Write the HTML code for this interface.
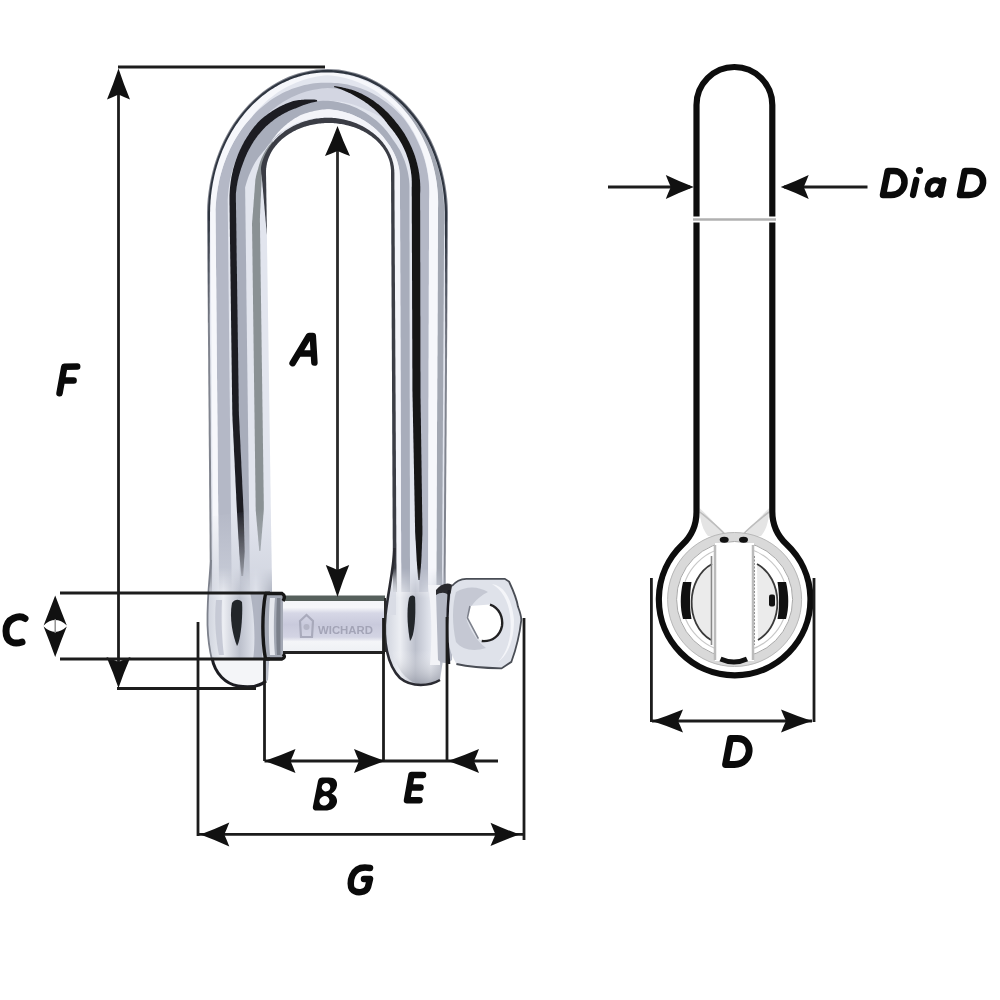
<!DOCTYPE html>
<html><head><meta charset="utf-8"><style>
html,body{margin:0;padding:0;background:#fff;}
svg{display:block;}
</style></head><body>
<svg width="1000" height="1000" viewBox="0 0 1000 1000">
<rect width="1000" height="1000" fill="#fff"/>
<defs><filter id="soft" x="-5%" y="-5%" width="110%" height="110%"><feGaussianBlur stdDeviation="0.7"/></filter></defs><g filter="url(#soft)">
<path d="M211.0,592.0 L211.0,588.2 L210.9,584.5 L210.9,580.7 L210.9,576.9 L210.8,573.1 L210.8,569.4 L210.8,565.6 L210.8,561.8 L210.7,558.1 L210.7,554.3 L210.7,550.5 L210.6,546.8 L210.6,543.0 L210.6,539.2 L210.6,535.5 L210.5,531.7 L210.5,527.9 L210.5,524.1 L210.4,520.4 L210.4,516.6 L210.4,512.8 L210.3,509.1 L210.3,505.3 L210.3,501.5 L210.2,497.8 L210.2,494.0 L210.2,490.2 L210.2,486.4 L210.1,482.7 L210.1,478.9 L210.1,475.1 L210.0,471.4 L210.0,467.6 L210.0,463.8 L209.9,460.1 L209.9,456.3 L209.9,452.5 L209.9,448.7 L209.8,445.0 L209.8,441.2 L209.8,437.4 L209.7,433.7 L209.7,429.9 L209.7,426.1 L209.7,422.4 L209.6,418.6 L209.6,414.8 L209.6,411.0 L209.5,407.3 L209.5,403.5 L209.5,399.7 L209.4,396.0 L209.4,392.2 L209.4,388.4 L209.3,384.6 L209.3,380.9 L209.3,377.1 L209.3,373.3 L209.2,369.6 L209.2,365.8 L209.2,362.0 L209.1,358.3 L209.1,354.5 L209.1,350.7 L209.1,346.9 L209.0,343.2 L209.0,339.4 L209.0,335.6 L208.9,331.9 L208.9,328.1 L208.9,324.3 L208.8,320.6 L208.8,316.8 L208.8,313.0 L208.8,309.2 L208.7,305.5 L208.7,301.7 L208.7,297.9 L208.6,294.2 L208.6,290.4 L208.6,286.6 L208.5,282.9 L208.5,279.1 L208.5,275.3 L208.4,271.6 L208.4,267.8 L208.4,264.0 L208.4,260.2 L208.3,256.5 L208.3,252.7 L208.3,248.9 L208.2,245.2 L208.2,241.4 L208.2,237.6 L208.2,233.9 L208.1,230.1 L208.1,226.3 L208.1,222.5 L208.0,218.8 L208.0,215.0 L208.1,210.4 L208.2,205.9 L208.5,201.4 L208.9,196.8 L209.5,192.3 L210.1,187.8 L210.9,183.4 L211.8,178.9 L212.7,174.5 L213.8,170.2 L215.1,165.9 L216.4,161.6 L217.8,157.4 L219.4,153.3 L221.0,149.2 L222.8,145.1 L224.6,141.2 L226.6,137.3 L228.7,133.5 L230.8,129.8 L233.1,126.1 L235.4,122.6 L237.9,119.1 L240.4,115.7 L243.0,112.5 L245.7,109.3 L248.5,106.2 L251.3,103.3 L254.3,100.4 L257.3,97.7 L260.3,95.1 L263.5,92.6 L266.7,90.2 L269.9,87.9 L273.2,85.8 L276.6,83.8 L280.0,81.9 L283.5,80.2 L287.0,78.6 L290.6,77.1 L294.2,75.8 L297.8,74.6 L301.4,73.5 L305.1,72.6 L308.8,71.8 L312.5,71.1 L316.3,70.6 L320.0,70.3 L323.7,70.1 L327.5,70.0 L331.3,70.1 L335.0,70.3 L338.7,70.6 L342.5,71.1 L346.2,71.8 L349.9,72.6 L353.6,73.5 L357.2,74.6 L360.8,75.8 L364.4,77.1 L368.0,78.6 L371.5,80.2 L375.0,81.9 L378.4,83.8 L381.8,85.8 L385.1,87.9 L388.3,90.2 L391.5,92.6 L394.7,95.1 L397.7,97.7 L400.7,100.4 L403.7,103.3 L406.5,106.2 L409.3,109.3 L412.0,112.5 L414.6,115.7 L417.1,119.1 L419.6,122.6 L421.9,126.1 L424.2,129.8 L426.3,133.5 L428.4,137.3 L430.4,141.2 L432.2,145.1 L434.0,149.2 L435.6,153.3 L437.2,157.4 L438.6,161.6 L439.9,165.9 L441.2,170.2 L442.3,174.5 L443.2,178.9 L444.1,183.4 L444.9,187.8 L445.5,192.3 L446.1,196.8 L446.5,201.4 L446.8,205.9 L446.9,210.4 L447.0,215.0 L447.0,218.8 L446.9,222.5 L446.9,226.3 L446.9,230.1 L446.9,233.8 L446.9,237.6 L446.8,241.4 L446.8,245.2 L446.8,248.9 L446.8,252.7 L446.7,256.5 L446.7,260.2 L446.7,264.0 L446.6,267.8 L446.6,271.5 L446.6,275.3 L446.6,279.1 L446.6,282.9 L446.5,286.6 L446.5,290.4 L446.5,294.2 L446.4,297.9 L446.4,301.7 L446.4,305.5 L446.4,309.2 L446.4,313.0 L446.3,316.8 L446.3,320.6 L446.3,324.3 L446.2,328.1 L446.2,331.9 L446.2,335.6 L446.2,339.4 L446.1,343.2 L446.1,347.0 L446.1,350.7 L446.1,354.5 L446.1,358.3 L446.0,362.0 L446.0,365.8 L446.0,369.6 L445.9,373.3 L445.9,377.1 L445.9,380.9 L445.9,384.7 L445.9,388.4 L445.8,392.2 L445.8,396.0 L445.8,399.7 L445.8,403.5 L445.7,407.3 L445.7,411.0 L445.7,414.8 L445.6,418.6 L445.6,422.3 L445.6,426.1 L445.6,429.9 L445.6,433.7 L445.5,437.4 L445.5,441.2 L445.5,445.0 L445.4,448.7 L445.4,452.5 L445.4,456.3 L445.4,460.0 L445.4,463.8 L445.3,467.6 L445.3,471.4 L445.3,475.1 L445.2,478.9 L445.2,482.7 L445.2,486.4 L445.2,490.2 L445.1,494.0 L445.1,497.8 L445.1,501.5 L445.1,505.3 L445.1,509.1 L445.0,512.8 L445.0,516.6 L445.0,520.4 L444.9,524.1 L444.9,527.9 L444.9,531.7 L444.9,535.5 L444.9,539.2 L444.8,543.0 L444.8,546.8 L444.8,550.5 L444.8,554.3 L444.7,558.1 L444.7,561.8 L444.7,565.6 L444.6,569.4 L444.6,573.2 L444.6,576.9 L444.6,580.7 L444.6,584.5 L444.5,588.2 L444.5,592.0 L393.0,592.0 L393.0,587.8 L393.0,583.6 L392.9,579.4 L392.9,575.2 L392.9,571.0 L392.9,566.8 L392.9,562.6 L392.8,558.4 L392.8,554.2 L392.8,550.0 L392.8,545.8 L392.8,541.6 L392.7,537.4 L392.7,533.2 L392.7,529.0 L392.7,524.8 L392.7,520.6 L392.6,516.4 L392.6,512.2 L392.6,508.0 L392.6,503.8 L392.6,499.6 L392.5,495.4 L392.5,491.2 L392.5,487.0 L392.5,482.8 L392.5,478.6 L392.4,474.4 L392.4,470.2 L392.4,466.0 L392.4,461.8 L392.4,457.6 L392.3,453.4 L392.3,449.2 L392.3,445.0 L392.3,440.8 L392.3,436.6 L392.2,432.4 L392.2,428.2 L392.2,424.0 L392.2,419.8 L392.2,415.6 L392.1,411.4 L392.1,407.2 L392.1,403.0 L392.1,398.8 L392.1,394.6 L392.0,390.4 L392.0,386.2 L392.0,382.0 L392.0,377.8 L392.0,373.6 L391.9,369.4 L391.9,365.2 L391.9,361.0 L391.9,356.8 L391.9,352.6 L391.8,348.4 L391.8,344.2 L391.8,340.0 L391.8,335.8 L391.8,331.6 L391.7,327.4 L391.7,323.2 L391.7,319.0 L391.7,314.8 L391.7,310.6 L391.6,306.4 L391.6,302.2 L391.6,298.0 L391.6,293.8 L391.6,289.6 L391.5,285.4 L391.5,281.2 L391.5,277.0 L391.5,272.8 L391.5,268.6 L391.4,264.4 L391.4,260.2 L391.4,256.0 L391.4,251.8 L391.4,247.6 L391.3,243.4 L391.3,239.2 L391.3,235.0 L391.3,230.8 L391.3,226.6 L391.2,222.4 L391.2,218.2 L391.2,214.0 L391.2,209.8 L391.2,205.6 L391.1,201.4 L391.1,197.2 L391.1,193.0 L391.1,188.8 L391.1,184.6 L391.0,180.4 L391.0,176.2 L391.0,172.0 L391.0,170.5 L390.9,168.9 L390.7,167.4 L390.5,165.9 L390.2,164.3 L389.9,162.8 L389.5,161.3 L389.0,159.8 L388.5,158.3 L387.9,156.9 L387.3,155.4 L386.6,154.0 L385.9,152.5 L385.1,151.1 L384.2,149.8 L383.3,148.4 L382.3,147.1 L381.3,145.7 L380.2,144.5 L379.1,143.2 L377.9,142.0 L376.7,140.8 L375.4,139.6 L374.1,138.5 L372.7,137.4 L371.3,136.3 L369.8,135.2 L368.3,134.2 L366.8,133.3 L365.2,132.4 L363.6,131.5 L362.0,130.6 L360.3,129.8 L358.6,129.1 L356.9,128.3 L355.1,127.7 L353.3,127.0 L351.5,126.4 L349.7,125.9 L347.8,125.4 L345.9,124.9 L344.0,124.5 L342.1,124.2 L340.2,123.9 L338.3,123.6 L336.3,123.4 L334.4,123.2 L332.4,123.1 L330.5,123.0 L328.5,123.0 L326.5,123.0 L324.6,123.1 L322.6,123.2 L320.7,123.4 L318.7,123.6 L316.8,123.9 L314.9,124.2 L313.0,124.5 L311.1,124.9 L309.2,125.4 L307.3,125.9 L305.5,126.4 L303.7,127.0 L301.9,127.7 L300.1,128.3 L298.4,129.1 L296.7,129.8 L295.0,130.6 L293.4,131.5 L291.8,132.4 L290.2,133.3 L288.7,134.2 L287.2,135.2 L285.7,136.3 L284.3,137.4 L282.9,138.5 L281.6,139.6 L280.3,140.8 L279.1,142.0 L277.9,143.2 L276.8,144.5 L275.7,145.7 L274.7,147.1 L273.7,148.4 L272.8,149.8 L271.9,151.1 L271.1,152.5 L270.4,154.0 L269.7,155.4 L269.1,156.9 L268.5,158.3 L268.0,159.8 L267.5,161.3 L267.1,162.8 L266.8,164.3 L266.5,165.9 L266.3,167.4 L266.1,168.9 L266.0,170.5 L266.0,172.0 L266.1,176.2 L266.1,180.4 L266.2,184.6 L266.2,188.8 L266.3,193.0 L266.4,197.2 L266.4,201.4 L266.5,205.6 L266.5,209.8 L266.6,214.0 L266.7,218.2 L266.7,222.4 L266.8,226.6 L266.8,230.8 L266.9,235.0 L267.0,239.2 L267.0,243.4 L267.1,247.6 L267.1,251.8 L267.2,256.0 L267.3,260.2 L267.3,264.4 L267.4,268.6 L267.4,272.8 L267.5,277.0 L267.6,281.2 L267.6,285.4 L267.7,289.6 L267.7,293.8 L267.8,298.0 L267.9,302.2 L267.9,306.4 L268.0,310.6 L268.0,314.8 L268.1,319.0 L268.2,323.2 L268.2,327.4 L268.3,331.6 L268.3,335.8 L268.4,340.0 L268.5,344.2 L268.5,348.4 L268.6,352.6 L268.6,356.8 L268.7,361.0 L268.8,365.2 L268.8,369.4 L268.9,373.6 L268.9,377.8 L269.0,382.0 L269.1,386.2 L269.1,390.4 L269.2,394.6 L269.2,398.8 L269.3,403.0 L269.4,407.2 L269.4,411.4 L269.5,415.6 L269.5,419.8 L269.6,424.0 L269.7,428.2 L269.7,432.4 L269.8,436.6 L269.8,440.8 L269.9,445.0 L270.0,449.2 L270.0,453.4 L270.1,457.6 L270.1,461.8 L270.2,466.0 L270.3,470.2 L270.3,474.4 L270.4,478.6 L270.4,482.8 L270.5,487.0 L270.6,491.2 L270.6,495.4 L270.7,499.6 L270.7,503.8 L270.8,508.0 L270.9,512.2 L270.9,516.4 L271.0,520.6 L271.0,524.8 L271.1,529.0 L271.2,533.2 L271.2,537.4 L271.3,541.6 L271.3,545.8 L271.4,550.0 L271.5,554.2 L271.5,558.4 L271.6,562.6 L271.6,566.8 L271.7,571.0 L271.8,575.2 L271.8,579.4 L271.9,583.6 L271.9,587.8 L272.0,592.0Z" fill="#e2e5ee" opacity="1" />
<path d="M249.7,135.1 L250.0,134.6 L250.3,134.0 L250.6,133.5 L251.0,132.9 L251.3,132.4 L251.6,131.9 L252.0,131.3 L252.3,130.8 L252.7,130.2 L253.0,129.7 L253.4,129.2 L253.7,128.6 L254.1,128.1 L254.5,127.6 L254.8,127.1 L255.2,126.5 L255.6,126.0 L256.0,125.5 L256.3,125.0 L256.7,124.5 L257.1,124.0 L257.5,123.4 L257.9,122.9 L258.3,122.4 L258.7,121.9 L259.1,121.4 L259.5,120.9 L259.9,120.4 L260.3,119.9 L260.7,119.4 L261.2,119.0 L261.6,118.5 L262.0,118.0 L262.4,117.5 L262.9,117.0 L263.3,116.5 L263.7,116.1 L264.2,115.6 L264.6,115.1 L265.1,114.7 L265.5,114.2 L266.0,113.7 L266.4,113.3 L266.9,112.8 L267.3,112.4 L267.8,111.9 L268.3,111.5 L268.7,111.0 L269.2,110.6 L269.7,110.2 L270.2,109.7 L270.6,109.3 L271.1,108.9 L271.6,108.5 L272.1,108.0 L272.6,107.6 L273.1,107.2 L273.6,106.8 L274.1,106.4 L274.6,106.0 L275.1,105.6 L275.6,105.2 L276.1,104.8 L276.6,104.4 L277.1,104.0 L277.6,103.6 L278.1,103.2 L278.7,102.8 L279.2,102.5 L279.7,102.1 L280.2,101.7 L280.8,101.3 L281.3,101.0 L281.8,100.6 L282.4,100.3 L282.9,99.9 L283.5,99.6 L284.1,99.3 L284.6,99.0 L285.2,98.7 L285.8,98.4 L286.4,98.1 L286.9,97.8 L287.5,97.5 L288.1,97.3 L288.7,97.0 L289.2,96.7 L289.8,96.4 L290.4,96.2 L291.0,95.9 L291.6,95.7 L292.2,95.4 L292.7,95.1 L293.3,94.9 L293.9,94.7 L294.5,94.4 L295.1,94.2 L295.7,94.0 L296.3,93.7 L296.9,93.5 L297.5,93.3 L298.1,93.1 L298.7,92.9 L299.3,92.7 L299.9,92.5 L300.5,92.3 L301.1,92.1 L301.7,91.9 L302.3,91.7 L302.9,91.5 L303.6,91.4 L304.2,91.2 L304.8,91.0 L305.4,90.9 L306.0,90.7 L306.6,90.6 L307.2,90.4 L307.8,90.3 L308.5,90.1 L309.1,90.0 L309.7,89.9 L310.3,89.8 L310.9,89.6 L311.6,89.5 L312.2,89.4 L312.8,89.3 L313.4,89.2 L314.0,89.1 L314.7,89.0 L315.3,88.9 L315.9,88.8 L316.5,88.7 L317.2,88.7 L317.8,88.6 L318.4,88.5 L319.0,88.5 L319.7,88.4 L320.3,88.3 L320.9,88.3 L321.6,88.2 L322.2,88.2 L322.8,88.2 L323.4,88.1 L324.1,88.1 L324.7,88.1 L325.3,88.1 L326.0,88.0 L326.6,88.0 L327.2,88.0 L327.8,88.0 L328.5,88.0 L329.1,88.0 L329.7,88.0 L330.4,88.1 L331.0,88.1 L331.6,88.1 L332.2,88.1 L332.9,88.2 L333.5,88.2 L334.1,88.2 L334.8,88.3 L335.4,88.3 L336.0,88.4 L336.6,88.5 L337.3,88.5 L337.9,88.6 L338.5,88.7 L339.1,88.7 L339.8,88.8 L340.4,88.9 L341.0,89.0 L341.6,89.1 L342.3,89.2 L342.9,89.3 L343.5,89.4 L344.1,89.5 L344.7,89.6 L345.4,89.8 L346.0,89.9 L346.6,90.0 L347.2,90.1 L347.8,90.3 L348.5,90.4 L349.1,90.6 L349.7,90.7 L350.3,90.9 L350.9,91.0 L351.5,91.2 L352.1,91.4 L352.7,91.5 L353.3,91.7 L354.0,91.9 L354.6,92.1 L355.2,92.3 L355.8,92.5 L356.4,92.7 L357.0,92.9 L357.6,93.1 L358.2,93.3 L358.8,93.5 L359.4,93.7 L360.0,94.0 L360.6,94.2 L361.2,94.4 L361.8,94.7 L362.3,94.9 L362.9,95.1 L363.5,95.4 L364.1,95.7 L364.7,95.9 L365.3,96.2 L365.9,96.4 L366.4,96.7 L367.0,97.0 L367.6,97.3 L368.2,97.5 L368.8,97.8 L369.3,98.1 L369.9,98.4 L370.5,98.7 L371.0,99.0 L371.6,99.3 L372.2,99.6 L372.7,99.9 L373.3,100.3 L373.8,100.6 L374.4,101.0 L374.9,101.3 L375.4,101.7 L376.0,102.1 L376.5,102.5 L377.0,102.8 L377.5,103.2 L378.1,103.6 L378.6,104.0 L379.1,104.4 L379.6,104.8 L380.1,105.2 L380.6,105.6 L381.1,106.0 L381.6,106.4 L382.1,106.8 L382.6,107.2 L383.1,107.6 L383.6,108.0 L384.1,108.5 L384.6,108.9 L385.1,109.3 L385.6,109.7 L386.0,110.2 L386.5,110.6 L387.0,111.0 L387.5,111.5 L387.9,111.9 L388.4,112.4 L388.9,112.8 L389.3,113.3 L389.8,113.7 L390.2,114.2 L390.7,114.7 L391.1,115.1 L391.6,115.6 L392.0,116.1 L392.4,116.5 L392.9,117.0 L393.3,117.5 L393.7,118.0 L394.2,118.5 L394.6,119.0 L395.0,119.4 L395.4,119.9 L395.8,120.4 L396.3,120.9 L396.7,121.4 L397.1,121.9 L397.5,122.4 L397.9,122.9 L398.3,123.4 L398.7,124.0 L399.0,124.5 L399.4,125.0 L399.8,125.5 L400.2,126.0 L400.6,126.5 L400.9,127.1 L401.3,127.6 L401.7,128.1 L402.0,128.6 L402.4,129.2 L402.8,129.7 L403.1,130.2 L403.5,130.8 L403.8,131.3 L404.1,131.9 L404.5,132.4 L404.8,132.9 L405.2,133.5 L405.5,134.0 L405.8,134.6 L406.1,135.1 L402.5,136.2 L402.1,135.7 L401.7,135.3 L401.3,134.8 L400.9,134.3 L400.5,133.8 L400.1,133.4 L399.7,132.9 L399.2,132.5 L398.8,132.0 L398.4,131.5 L398.0,131.1 L397.6,130.7 L397.1,130.2 L396.7,129.8 L396.3,129.4 L395.8,128.9 L395.4,128.5 L394.9,128.1 L394.5,127.7 L394.1,127.3 L393.6,126.8 L393.2,126.4 L392.7,126.0 L392.3,125.6 L391.8,125.2 L391.4,124.9 L390.9,124.5 L390.5,124.1 L390.0,123.7 L389.5,123.3 L389.1,123.0 L388.6,122.6 L388.1,122.2 L387.7,121.9 L387.2,121.5 L386.7,121.2 L386.3,120.8 L385.8,120.5 L385.3,120.1 L384.8,119.8 L384.3,119.5 L383.9,119.1 L383.4,118.8 L382.9,118.5 L382.4,118.2 L381.9,117.9 L381.4,117.5 L381.0,117.2 L380.5,116.9 L380.0,116.6 L379.5,116.3 L379.0,116.1 L378.5,115.8 L378.0,115.5 L377.5,115.2 L377.0,114.9 L376.5,114.7 L376.0,114.4 L375.5,114.1 L375.0,113.9 L374.5,113.6 L374.0,113.4 L373.5,113.1 L373.0,112.9 L372.5,112.7 L371.9,112.4 L371.4,112.2 L370.9,112.0 L370.4,111.7 L369.9,111.5 L369.4,111.3 L368.9,111.1 L368.4,110.9 L367.8,110.7 L367.3,110.5 L366.8,110.2 L366.4,110.0 L365.9,109.7 L365.4,109.5 L364.9,109.2 L364.4,109.0 L363.9,108.8 L363.4,108.5 L362.9,108.3 L362.4,108.1 L361.9,107.9 L361.4,107.6 L360.9,107.4 L360.4,107.2 L359.9,107.0 L359.4,106.8 L358.9,106.6 L358.4,106.4 L357.9,106.2 L357.4,106.0 L356.8,105.8 L356.3,105.6 L355.8,105.5 L355.3,105.3 L354.8,105.1 L354.3,104.9 L353.8,104.8 L353.2,104.6 L352.7,104.4 L352.2,104.3 L351.7,104.1 L351.2,104.0 L350.6,103.8 L350.1,103.7 L349.6,103.5 L349.1,103.4 L348.5,103.3 L348.0,103.1 L347.5,103.0 L346.9,102.9 L346.4,102.8 L345.9,102.7 L345.3,102.5 L344.8,102.4 L344.3,102.3 L343.7,102.2 L343.2,102.1 L342.7,102.0 L342.1,101.9 L341.6,101.8 L341.1,101.8 L340.5,101.7 L340.0,101.6 L339.5,101.5 L338.9,101.4 L338.4,101.4 L337.8,101.3 L337.3,101.2 L336.8,101.2 L336.2,101.1 L335.7,101.1 L335.1,101.0 L334.6,101.0 L334.0,101.0 L333.5,100.9 L333.0,100.9 L332.4,100.9 L331.9,100.8 L331.3,100.8 L330.8,100.8 L330.3,100.8 L329.7,100.8 L329.2,100.7 L328.6,100.7 L328.1,100.7 L327.5,100.7 L327.0,100.7 L326.5,100.8 L325.9,100.8 L325.4,100.8 L324.8,100.8 L324.3,100.8 L323.7,100.9 L323.2,100.9 L322.7,100.9 L322.1,101.0 L321.6,101.0 L321.0,101.0 L320.5,101.1 L319.9,101.1 L319.4,101.2 L318.9,101.2 L318.3,101.3 L317.8,101.4 L317.2,101.4 L316.7,101.5 L316.2,101.6 L315.6,101.7 L315.1,101.8 L314.6,101.8 L314.0,101.9 L313.5,102.0 L313.0,102.1 L312.4,102.2 L311.9,102.3 L311.3,102.4 L310.8,102.5 L310.3,102.7 L309.8,102.8 L309.2,102.9 L308.7,103.0 L308.2,103.1 L307.6,103.3 L307.1,103.4 L306.6,103.5 L306.1,103.7 L305.5,103.8 L305.0,104.0 L304.5,104.1 L304.0,104.3 L303.4,104.4 L302.9,104.6 L302.4,104.8 L301.9,104.9 L301.4,105.1 L300.9,105.3 L300.3,105.5 L299.8,105.6 L299.3,105.8 L298.8,106.0 L298.3,106.2 L297.8,106.4 L297.3,106.6 L296.8,106.8 L296.3,107.0 L295.8,107.2 L295.3,107.4 L294.8,107.6 L294.2,107.9 L293.8,108.1 L293.3,108.3 L292.8,108.5 L292.3,108.8 L291.8,109.0 L291.3,109.2 L290.8,109.5 L290.3,109.7 L289.8,110.0 L289.3,110.2 L288.8,110.5 L288.3,110.7 L287.8,110.8 L287.2,111.0 L286.7,111.2 L286.2,111.4 L285.7,111.6 L285.1,111.8 L284.6,112.1 L284.1,112.3 L283.6,112.5 L283.0,112.7 L282.5,112.9 L282.0,113.2 L281.5,113.4 L280.9,113.7 L280.4,113.9 L279.9,114.1 L279.4,114.4 L278.9,114.7 L278.3,114.9 L277.8,115.2 L277.3,115.5 L276.8,115.7 L276.3,116.0 L275.8,116.3 L275.3,116.6 L274.8,116.9 L274.2,117.2 L273.7,117.5 L273.2,117.8 L272.7,118.1 L272.2,118.4 L271.7,118.7 L271.2,119.0 L270.7,119.4 L270.2,119.7 L269.7,120.0 L269.2,120.4 L268.7,120.7 L268.2,121.0 L267.7,121.4 L267.3,121.8 L266.8,122.1 L266.3,122.5 L265.8,122.8 L265.3,123.2 L264.8,123.6 L264.3,124.0 L263.9,124.4 L263.4,124.7 L262.9,125.1 L262.4,125.5 L262.0,125.9 L261.5,126.3 L261.0,126.8 L260.5,127.2 L260.1,127.6 L259.6,128.0 L259.2,128.4 L258.7,128.9 L258.2,129.3 L257.8,129.7 L257.3,130.2 L256.9,130.6 L256.4,131.1 L256.0,131.5 L255.5,132.0 L255.1,132.5 L254.6,132.9 L254.2,133.4 L253.8,133.9 L253.3,134.3 L252.9,134.8 L252.5,135.3 L252.0,135.8Z" fill="#d3d6e2" opacity="1" />
<path d="M218.9,592.0 L218.9,588.2 L218.9,584.3 L218.8,580.5 L218.8,576.7 L218.8,572.9 L218.7,569.0 L218.7,565.2 L218.7,561.4 L218.6,557.6 L218.6,553.7 L218.6,549.9 L218.5,546.1 L218.5,542.3 L218.5,538.4 L218.4,534.6 L218.4,530.8 L218.4,527.0 L218.3,523.1 L218.3,519.3 L218.3,515.5 L218.2,511.7 L218.2,507.8 L218.2,504.0 L218.1,500.2 L218.1,496.4 L218.0,492.5 L218.0,488.7 L218.0,484.9 L217.9,481.0 L217.9,477.2 L217.9,473.4 L217.8,469.6 L217.8,465.7 L217.8,461.9 L217.7,458.1 L217.7,454.3 L217.7,450.4 L217.6,446.6 L217.6,442.8 L217.6,439.0 L217.5,435.1 L217.5,431.3 L217.5,427.5 L217.4,423.7 L217.4,419.8 L217.4,416.0 L217.3,412.2 L217.3,408.4 L217.3,404.5 L217.2,400.7 L217.2,396.9 L217.2,393.1 L217.1,389.2 L217.1,385.4 L217.1,381.6 L217.0,377.7 L217.0,373.9 L217.0,370.1 L216.9,366.3 L216.9,362.4 L216.9,358.6 L216.8,354.8 L216.8,351.0 L216.8,347.1 L216.7,343.3 L216.7,339.5 L216.7,335.7 L216.6,331.8 L216.6,328.0 L216.6,324.2 L216.5,320.4 L216.5,316.5 L216.5,312.7 L216.4,308.9 L216.4,305.1 L216.4,301.2 L216.3,297.4 L216.3,293.6 L216.3,289.8 L216.2,285.9 L216.2,282.1 L216.2,278.3 L216.1,274.5 L216.1,270.6 L216.0,266.8 L216.0,263.0 L216.0,259.1 L215.9,255.3 L215.9,251.5 L215.9,247.7 L215.8,243.8 L215.8,240.0 L215.8,236.2 L215.7,232.4 L215.7,228.5 L215.7,224.7 L215.6,220.9 L215.6,217.1 L215.6,213.2 L215.5,209.4 L215.8,205.1 L216.1,200.9 L216.5,196.7 L217.1,192.5 L217.7,188.3 L218.5,184.2 L219.3,180.1 L220.3,176.0 L221.4,172.0 L222.6,168.1 L223.8,164.2 L225.2,160.4 L226.7,156.6 L228.3,152.9 L229.9,149.3 L231.7,145.7 L233.5,142.2 L235.5,138.8 L237.5,135.5 L239.6,132.3 L241.8,129.1 L244.0,126.1 L246.4,123.1 L248.8,120.2 L251.3,117.4 L253.8,114.7 L256.3,112.1 L259.0,109.6 L261.7,107.2 L264.4,104.9 L267.3,102.7 L270.1,100.6 L273.1,98.6 L276.0,96.8 L279.1,95.0 L282.1,93.3 L285.2,91.8 L288.4,90.4 L291.5,89.1 L294.7,87.9 L298.0,86.9 L301.2,85.9 L304.5,85.1 L307.8,84.4 L311.1,83.8 L314.4,83.3 L317.8,83.0 L321.1,82.8 L324.4,82.7 L327.7,82.7 L331.1,82.7 L334.4,82.9 L337.7,83.1 L341.0,83.5 L344.3,84.0 L347.6,84.6 L350.9,85.4 L354.1,86.2 L357.4,87.2 L360.6,88.3 L363.7,89.5 L366.9,90.8 L370.0,92.3 L373.1,93.8 L376.1,95.5 L379.1,97.3 L382.0,99.2 L384.9,101.2 L387.7,103.3 L390.5,105.5 L393.2,107.8 L395.8,110.2 L398.4,112.7 L400.9,115.3 L403.4,117.9 L405.5,120.8 L407.6,123.8 L409.6,126.8 L411.5,129.9 L413.4,133.0 L415.1,136.2 L416.7,139.4 L418.2,142.7 L419.7,146.0 L421.0,149.3 L422.3,152.7 L423.4,156.1 L424.5,159.5 L425.4,163.0 L426.3,166.5 L427.0,169.9 L427.6,173.4 L428.2,176.9 L428.6,180.4 L428.9,183.9 L429.2,187.4 L429.3,190.9 L429.3,194.4 L429.3,197.8 L429.1,201.2 L429.1,205.1 L429.1,209.1 L429.0,213.0 L429.0,216.9 L429.0,220.8 L429.0,224.7 L429.0,228.6 L429.0,232.5 L429.0,236.4 L429.0,240.3 L429.0,244.2 L429.0,248.1 L428.9,252.0 L428.9,255.9 L428.9,259.9 L428.9,263.8 L428.9,267.7 L428.9,271.6 L428.9,275.5 L428.9,279.4 L428.9,283.3 L428.8,287.2 L428.8,291.1 L428.8,295.0 L428.8,298.9 L428.8,302.8 L428.8,306.7 L428.8,310.7 L428.8,314.6 L428.8,318.5 L428.8,322.4 L428.7,326.3 L428.7,330.2 L428.7,334.1 L428.7,338.0 L428.7,341.9 L428.7,345.8 L428.7,349.7 L428.7,353.6 L428.7,357.5 L428.6,361.5 L428.6,365.4 L428.6,369.3 L428.6,373.2 L428.6,377.1 L428.6,381.0 L428.6,384.9 L428.6,388.8 L428.6,392.7 L428.6,396.6 L428.5,400.5 L428.5,404.4 L428.5,408.3 L428.5,412.3 L428.5,416.2 L428.5,420.1 L428.5,424.0 L428.5,427.9 L428.5,431.8 L428.4,435.7 L428.4,439.6 L428.4,443.5 L428.4,447.4 L428.4,451.3 L428.4,455.2 L428.4,459.1 L428.4,463.0 L428.4,467.0 L428.3,470.9 L428.3,474.8 L428.3,478.7 L428.3,482.6 L428.3,486.5 L428.3,490.4 L428.3,494.3 L428.3,498.2 L428.3,502.1 L428.3,506.0 L428.2,509.9 L428.2,513.8 L428.2,517.8 L428.2,521.7 L428.2,525.6 L428.2,529.5 L428.2,533.4 L428.2,537.3 L428.2,541.2 L428.1,545.1 L428.1,549.0 L428.1,552.9 L428.1,556.8 L428.1,560.7 L428.1,564.6 L428.1,568.6 L428.1,572.5 L428.1,576.4 L428.1,580.3 L428.0,584.2 L428.0,588.1 L428.0,592.0 L419.3,592.0 L419.3,588.0 L419.3,584.0 L419.3,580.1 L419.3,576.1 L419.3,572.1 L419.3,568.1 L419.3,564.1 L419.3,560.2 L419.3,556.2 L419.3,552.2 L419.3,548.2 L419.3,544.2 L419.3,540.3 L419.3,536.3 L419.3,532.3 L419.3,528.3 L419.3,524.3 L419.3,520.3 L419.3,516.4 L419.3,512.4 L419.3,508.4 L419.3,504.4 L419.3,500.4 L419.3,496.5 L419.3,492.5 L419.3,488.5 L419.3,484.5 L419.3,480.5 L419.4,476.6 L419.4,472.6 L419.4,468.6 L419.4,464.6 L419.4,460.6 L419.4,456.7 L419.4,452.7 L419.4,448.7 L419.4,444.7 L419.4,440.7 L419.4,436.8 L419.4,432.8 L419.4,428.8 L419.4,424.8 L419.4,420.8 L419.4,416.8 L419.4,412.9 L419.4,408.9 L419.4,404.9 L419.4,400.9 L419.4,396.9 L419.4,393.0 L419.4,389.0 L419.4,385.0 L419.4,381.0 L419.4,377.0 L419.4,373.1 L419.4,369.1 L419.4,365.1 L419.4,361.1 L419.4,357.1 L419.4,353.2 L419.4,349.2 L419.4,345.2 L419.5,341.2 L419.5,337.2 L419.5,333.3 L419.5,329.3 L419.5,325.3 L419.5,321.3 L419.5,317.3 L419.5,313.4 L419.5,309.4 L419.5,305.4 L419.5,301.4 L419.5,297.4 L419.5,293.4 L419.5,289.5 L419.5,285.5 L419.5,281.5 L419.5,277.5 L419.5,273.5 L419.5,269.6 L419.5,265.6 L419.5,261.6 L419.5,257.6 L419.5,253.6 L419.5,249.7 L419.5,245.7 L419.5,241.7 L419.5,237.7 L419.5,233.7 L419.5,229.8 L419.5,225.8 L419.5,221.8 L419.5,217.8 L419.5,213.8 L419.5,209.9 L419.6,205.9 L419.6,201.9 L419.6,197.9 L419.6,193.9 L419.7,191.0 L419.8,188.0 L419.8,185.1 L419.6,182.1 L419.4,179.1 L419.1,176.1 L418.7,173.1 L418.2,170.1 L417.7,167.1 L417.0,164.1 L416.2,161.2 L415.4,158.2 L414.4,155.3 L413.4,152.3 L412.3,149.4 L411.1,146.6 L409.7,143.7 L408.4,140.9 L406.9,138.1 L405.3,135.4 L403.7,132.7 L401.9,130.0 L400.1,127.5 L398.2,124.9 L396.3,122.4 L394.2,120.0 L392.0,117.7 L389.8,115.4 L387.5,113.3 L385.1,111.1 L382.7,109.1 L380.2,107.2 L377.7,105.3 L375.1,103.5 L372.4,101.8 L369.7,100.2 L366.9,98.7 L364.1,97.2 L361.3,95.9 L358.4,94.7 L355.5,93.5 L352.5,92.5 L349.5,91.6 L346.5,90.7 L343.4,90.0 L340.3,89.4 L337.2,88.9 L334.1,88.5 L331.0,88.2 L327.8,88.0 L324.7,88.2 L321.6,88.5 L318.5,88.9 L315.4,89.4 L312.3,90.0 L309.2,90.7 L306.2,91.6 L303.2,92.5 L300.3,93.5 L297.3,94.7 L294.5,95.9 L291.6,97.2 L288.8,98.7 L286.1,100.2 L283.4,101.8 L280.7,103.5 L278.1,105.3 L275.6,107.2 L273.1,109.1 L270.6,111.1 L268.3,113.3 L266.0,115.4 L263.8,117.7 L261.6,120.0 L259.5,122.4 L257.3,124.8 L255.2,127.2 L253.1,129.7 L251.1,132.3 L249.1,135.0 L247.2,137.7 L245.4,140.5 L243.7,143.4 L242.1,146.4 L240.5,149.4 L239.0,152.5 L237.6,155.6 L236.3,158.8 L235.1,162.0 L233.9,165.3 L232.9,168.7 L231.9,172.1 L231.1,175.5 L230.3,179.0 L229.6,182.5 L229.1,186.0 L228.6,189.6 L228.2,193.1 L227.9,196.8 L227.7,200.4 L227.8,204.3 L227.8,208.2 L227.8,212.1 L227.9,216.0 L227.9,220.0 L228.0,223.9 L228.0,227.8 L228.0,231.7 L228.1,235.6 L228.1,239.5 L228.2,243.5 L228.2,247.4 L228.2,251.3 L228.3,255.2 L228.3,259.1 L228.4,263.0 L228.4,267.0 L228.4,270.9 L228.5,274.8 L228.5,278.7 L228.6,282.6 L228.6,286.5 L228.6,290.5 L228.7,294.4 L228.7,298.3 L228.8,302.2 L228.8,306.1 L228.8,310.0 L228.9,313.9 L228.9,317.9 L229.0,321.8 L229.0,325.7 L229.0,329.6 L229.1,333.5 L229.1,337.4 L229.2,341.4 L229.2,345.3 L229.2,349.2 L229.3,353.1 L229.3,357.0 L229.4,360.9 L229.4,364.9 L229.4,368.8 L229.5,372.7 L229.5,376.6 L229.6,380.5 L229.6,384.4 L229.6,388.4 L229.7,392.3 L229.7,396.2 L229.8,400.1 L229.8,404.0 L229.9,407.9 L229.9,411.9 L229.9,415.8 L230.0,419.7 L230.0,423.6 L230.1,427.5 L230.1,431.4 L230.1,435.4 L230.2,439.3 L230.2,443.2 L230.3,447.1 L230.3,451.0 L230.3,454.9 L230.4,458.8 L230.4,462.8 L230.5,466.7 L230.5,470.6 L230.5,474.5 L230.6,478.4 L230.6,482.3 L230.7,486.3 L230.7,490.2 L230.7,494.1 L230.8,498.0 L230.8,501.9 L230.9,505.8 L230.9,509.8 L230.9,513.7 L231.0,517.6 L231.0,521.5 L231.1,525.4 L231.1,529.3 L231.1,533.3 L231.2,537.2 L231.2,541.1 L231.3,545.0 L231.3,548.9 L231.3,552.8 L231.4,556.8 L231.4,560.7 L231.5,564.6 L231.5,568.5 L231.5,572.4 L231.6,576.3 L231.6,580.3 L231.7,584.2 L231.7,588.1 L231.7,592.0Z" fill="#b4b8c6" opacity="1" />
<path d="M240.0,592.0 L239.9,588.0 L239.9,584.1 L239.8,580.1 L239.8,576.1 L239.8,572.1 L239.7,568.2 L239.7,564.2 L239.6,560.2 L239.6,556.2 L239.5,552.3 L239.5,548.3 L239.4,544.3 L239.4,540.3 L239.4,536.4 L239.3,532.4 L239.3,528.4 L239.2,524.4 L239.2,520.5 L239.1,516.5 L239.1,512.5 L239.0,508.5 L239.0,504.6 L239.0,500.6 L238.9,496.6 L238.9,492.6 L238.8,488.7 L238.8,484.7 L238.7,480.7 L238.7,476.7 L238.6,472.8 L238.6,468.8 L238.6,464.8 L238.5,460.8 L238.5,456.9 L238.4,452.9 L238.4,448.9 L238.3,445.0 L238.3,441.0 L238.2,437.0 L238.2,433.0 L238.2,429.1 L238.1,425.1 L238.1,421.1 L238.0,417.1 L238.0,413.2 L237.9,409.2 L237.9,405.2 L237.9,401.2 L237.8,397.3 L237.8,393.3 L237.7,389.3 L237.7,385.3 L237.6,381.4 L237.6,377.4 L237.5,373.4 L237.5,369.4 L237.5,365.5 L237.4,361.5 L237.4,357.5 L237.3,353.5 L237.3,349.6 L237.2,345.6 L237.2,341.6 L237.1,337.6 L237.1,333.7 L237.1,329.7 L237.0,325.7 L237.0,321.8 L236.9,317.8 L236.9,313.8 L236.8,309.8 L236.8,305.9 L236.7,301.9 L236.7,297.9 L236.7,293.9 L236.6,290.0 L236.6,286.0 L236.5,282.0 L236.5,278.0 L236.4,274.1 L236.4,270.1 L236.3,266.1 L236.3,262.1 L236.3,258.2 L236.2,254.2 L236.2,250.2 L236.1,246.2 L236.1,242.3 L236.0,238.3 L236.0,234.3 L235.9,230.3 L235.9,226.4 L235.9,222.4 L235.8,218.4 L235.8,214.4 L235.7,210.5 L235.7,206.5 L235.6,202.5 L235.6,198.5 L235.6,194.6 L235.8,191.3 L236.2,188.1 L236.6,184.8 L237.1,181.7 L237.7,178.5 L238.4,175.4 L239.2,172.3 L240.1,169.3 L241.1,166.3 L242.1,163.4 L243.2,160.5 L244.4,157.6 L245.7,154.9 L247.0,152.1 L248.5,149.5 L249.9,146.9 L251.5,144.3 L253.1,141.9 L254.8,139.4 L256.5,137.1 L258.3,134.8 L260.2,132.6 L262.1,130.5 L264.1,128.4 L266.1,126.4 L268.1,124.4 L270.2,122.5 L272.3,120.7 L274.5,118.9 L276.7,117.2 L279.0,115.6 L281.3,114.1 L283.7,112.6 L286.1,111.3 L288.5,110.0 L291.0,108.7 L293.5,107.6 L296.0,106.6 L298.6,105.6 L301.2,104.7 L303.8,103.9 L306.5,103.2 L309.1,102.6 L311.8,102.1 L314.5,101.6 L317.2,101.3 L319.9,101.0 L322.6,100.8 L325.4,100.7 L328.1,100.7 L330.8,101.0 L333.5,101.3 L336.2,101.8 L338.8,102.3 L341.4,102.9 L344.0,103.6 L346.6,104.3 L349.2,105.1 L351.7,106.1 L354.1,107.0 L356.6,108.1 L358.9,109.2 L361.3,110.4 L363.6,111.7 L365.8,113.0 L368.0,114.4 L370.2,115.9 L372.3,117.4 L374.3,119.0 L376.3,120.6 L378.2,122.2 L380.1,124.0 L381.9,125.7 L383.6,127.5 L385.3,129.4 L386.9,131.3 L388.4,133.2 L389.9,135.2 L391.3,137.2 L392.6,139.2 L394.1,141.2 L395.5,143.2 L396.9,145.3 L398.2,147.4 L399.5,149.6 L400.7,151.8 L401.8,154.1 L402.8,156.4 L403.8,158.7 L404.7,161.1 L405.5,163.5 L406.3,165.9 L406.9,168.4 L407.5,170.8 L408.1,173.4 L408.5,175.9 L408.9,178.4 L409.2,181.0 L409.4,183.6 L409.5,186.2 L409.5,190.2 L409.5,194.3 L409.5,198.4 L409.5,202.4 L409.5,206.5 L409.5,210.5 L409.5,214.6 L409.5,218.7 L409.5,222.7 L409.5,226.8 L409.5,230.8 L409.5,234.9 L409.5,238.9 L409.6,243.0 L409.6,247.1 L409.6,251.1 L409.6,255.2 L409.6,259.2 L409.6,263.3 L409.6,267.4 L409.6,271.4 L409.6,275.5 L409.6,279.5 L409.6,283.6 L409.6,287.6 L409.6,291.7 L409.6,295.8 L409.6,299.8 L409.6,303.9 L409.6,307.9 L409.6,312.0 L409.6,316.0 L409.6,320.1 L409.7,324.2 L409.7,328.2 L409.7,332.3 L409.7,336.3 L409.7,340.4 L409.7,344.5 L409.7,348.5 L409.7,352.6 L409.7,356.6 L409.7,360.7 L409.7,364.7 L409.7,368.8 L409.7,372.9 L409.7,376.9 L409.7,381.0 L409.7,385.0 L409.7,389.1 L409.7,393.2 L409.7,397.2 L409.8,401.3 L409.8,405.3 L409.8,409.4 L409.8,413.4 L409.8,417.5 L409.8,421.6 L409.8,425.6 L409.8,429.7 L409.8,433.7 L409.8,437.8 L409.8,441.9 L409.8,445.9 L409.8,450.0 L409.8,454.0 L409.8,458.1 L409.8,462.1 L409.8,466.2 L409.8,470.3 L409.8,474.3 L409.9,478.4 L409.9,482.4 L409.9,486.5 L409.9,490.5 L409.9,494.6 L409.9,498.7 L409.9,502.7 L409.9,506.8 L409.9,510.8 L409.9,514.9 L409.9,519.0 L409.9,523.0 L409.9,527.1 L409.9,531.1 L409.9,535.2 L409.9,539.2 L409.9,543.3 L409.9,547.4 L409.9,551.4 L409.9,555.5 L410.0,559.5 L410.0,563.6 L410.0,567.7 L410.0,571.7 L410.0,575.8 L410.0,579.8 L410.0,583.9 L410.0,587.9 L410.0,592.0 L401.2,592.0 L401.2,587.9 L401.2,583.7 L401.2,579.6 L401.2,575.5 L401.2,571.3 L401.2,567.2 L401.2,563.1 L401.1,559.0 L401.1,554.8 L401.1,550.7 L401.1,546.6 L401.1,542.4 L401.1,538.3 L401.1,534.2 L401.0,530.0 L401.0,525.9 L401.0,521.8 L401.0,517.6 L401.0,513.5 L401.0,509.4 L401.0,505.2 L401.0,501.1 L400.9,497.0 L400.9,492.9 L400.9,488.7 L400.9,484.6 L400.9,480.5 L400.9,476.3 L400.9,472.2 L400.9,468.1 L400.8,463.9 L400.8,459.8 L400.8,455.7 L400.8,451.5 L400.8,447.4 L400.8,443.3 L400.8,439.1 L400.8,435.0 L400.7,430.9 L400.7,426.8 L400.7,422.6 L400.7,418.5 L400.7,414.4 L400.7,410.2 L400.7,406.1 L400.7,402.0 L400.6,397.8 L400.6,393.7 L400.6,389.6 L400.6,385.4 L400.6,381.3 L400.6,377.2 L400.6,373.0 L400.5,368.9 L400.5,364.8 L400.5,360.7 L400.5,356.5 L400.5,352.4 L400.5,348.3 L400.5,344.1 L400.5,340.0 L400.4,335.9 L400.4,331.7 L400.4,327.6 L400.4,323.5 L400.4,319.3 L400.4,315.2 L400.4,311.1 L400.4,306.9 L400.3,302.8 L400.3,298.7 L400.3,294.6 L400.3,290.4 L400.3,286.3 L400.3,282.2 L400.3,278.0 L400.3,273.9 L400.2,269.8 L400.2,265.6 L400.2,261.5 L400.2,257.4 L400.2,253.2 L400.2,249.1 L400.2,245.0 L400.2,240.8 L400.1,236.7 L400.1,232.6 L400.1,228.5 L400.1,224.3 L400.1,220.2 L400.1,216.1 L400.1,211.9 L400.0,207.8 L400.0,203.7 L400.0,199.5 L400.0,195.4 L400.0,191.3 L400.0,187.1 L400.0,183.0 L400.0,178.9 L399.9,176.9 L399.8,174.8 L399.6,172.8 L399.4,170.8 L399.1,168.8 L398.7,166.8 L398.2,164.8 L397.7,162.9 L397.1,160.9 L396.5,159.0 L395.7,157.1 L394.9,155.2 L394.1,153.3 L393.1,151.5 L392.2,149.7 L391.1,147.9 L390.0,146.1 L388.8,144.4 L387.6,142.7 L386.3,141.1 L385.1,139.4 L383.8,137.7 L382.5,136.1 L381.1,134.5 L379.6,133.0 L378.1,131.4 L376.6,129.9 L374.9,128.5 L373.3,127.0 L371.5,125.7 L369.7,124.3 L367.9,123.0 L366.0,121.8 L364.1,120.6 L362.1,119.4 L360.1,118.3 L358.0,117.3 L355.9,116.3 L353.8,115.3 L351.6,114.4 L349.4,113.6 L347.1,112.9 L344.8,112.2 L342.5,111.6 L340.2,111.0 L337.8,110.5 L335.5,110.1 L333.1,109.7 L330.7,109.4 L328.2,109.2 L325.8,109.6 L323.4,110.0 L321.1,110.4 L318.7,111.0 L316.4,111.6 L314.1,112.3 L311.9,113.0 L309.7,113.8 L307.5,114.6 L305.4,115.5 L303.3,116.5 L301.3,117.5 L299.3,118.6 L297.3,119.7 L295.4,120.9 L293.5,122.1 L291.7,123.3 L290.0,124.6 L288.3,125.9 L286.7,127.2 L285.1,128.6 L283.6,130.0 L282.1,131.4 L280.7,132.9 L279.3,134.4 L277.7,135.7 L276.1,137.0 L274.5,138.4 L273.0,139.9 L271.6,141.4 L270.2,142.9 L268.8,144.6 L267.5,146.2 L266.2,147.9 L265.0,149.7 L263.3,151.5 L261.7,153.4 L260.0,155.4 L258.4,157.6 L256.9,159.8 L255.4,162.1 L254.0,164.6 L252.7,167.1 L251.4,169.7 L250.2,172.4 L249.0,175.3 L247.9,178.2 L246.9,181.2 L246.0,184.3 L245.1,187.5 L245.2,191.5 L245.2,195.6 L245.3,199.6 L245.3,203.7 L245.4,207.7 L245.4,211.8 L245.5,215.8 L245.5,219.8 L245.6,223.9 L245.6,227.9 L245.7,232.0 L245.7,236.0 L245.8,240.1 L245.8,244.1 L245.9,248.2 L245.9,252.2 L246.0,256.2 L246.0,260.3 L246.1,264.3 L246.1,268.4 L246.2,272.4 L246.2,276.5 L246.3,280.5 L246.3,284.6 L246.3,288.6 L246.4,292.7 L246.4,296.7 L246.5,300.7 L246.5,304.8 L246.6,308.8 L246.6,312.9 L246.7,316.9 L246.7,321.0 L246.8,325.0 L246.8,329.1 L246.9,333.1 L246.9,337.2 L247.0,341.2 L247.0,345.2 L247.1,349.3 L247.1,353.3 L247.2,357.4 L247.2,361.4 L247.3,365.5 L247.3,369.5 L247.4,373.6 L247.4,377.6 L247.5,381.6 L247.5,385.7 L247.6,389.7 L247.6,393.8 L247.7,397.8 L247.7,401.9 L247.8,405.9 L247.8,410.0 L247.9,414.0 L247.9,418.1 L248.0,422.1 L248.0,426.1 L248.1,430.2 L248.1,434.2 L248.2,438.3 L248.2,442.3 L248.3,446.4 L248.3,450.4 L248.4,454.5 L248.4,458.5 L248.5,462.6 L248.5,466.6 L248.6,470.6 L248.6,474.7 L248.7,478.7 L248.7,482.8 L248.8,486.8 L248.8,490.9 L248.9,494.9 L248.9,499.0 L249.0,503.0 L249.0,507.1 L249.1,511.1 L249.1,515.1 L249.2,519.2 L249.2,523.2 L249.3,527.3 L249.3,531.3 L249.4,535.4 L249.4,539.4 L249.4,543.5 L249.5,547.5 L249.5,551.5 L249.6,555.6 L249.6,559.6 L249.7,563.7 L249.7,567.7 L249.8,571.8 L249.8,575.8 L249.9,579.9 L249.9,583.9 L250.0,588.0 L250.0,592.0Z" fill="#a8adbb" opacity="1" />
<path d="M380.5,87.9 L382.0,88.8 L383.4,89.8 L384.9,90.7 L386.3,91.7 L387.7,92.7 L389.1,93.8 L390.5,94.8 L391.9,95.9 L393.3,97.0 L394.6,98.1 L396.0,99.3 L397.3,100.5 L398.6,101.7 L399.9,102.9 L401.2,104.1 L402.5,105.4 L403.7,106.7 L405.0,108.0 L406.2,109.3 L407.4,110.6 L408.6,112.0 L409.8,113.4 L410.9,114.8 L412.1,116.2 L413.2,117.7 L414.3,119.1 L415.4,120.6 L416.5,122.1 L417.5,123.7 L418.6,125.2 L419.6,126.7 L420.6,128.3 L421.6,129.9 L422.6,131.5 L423.5,133.1 L424.4,134.8 L425.3,136.4 L426.2,138.1 L427.1,139.8 L428.0,141.5 L428.8,143.2 L429.6,144.9 L430.4,146.7 L431.2,148.4 L431.9,150.2 L432.6,152.0 L433.3,153.8 L434.0,155.6 L434.7,157.4 L435.3,159.2 L435.9,161.0 L436.5,162.9 L437.1,164.7 L437.7,166.6 L438.2,168.5 L438.7,170.4 L439.2,172.3 L439.7,174.2 L440.1,176.1 L440.5,178.0 L440.9,179.9 L441.3,181.8 L441.7,183.8 L442.0,185.7 L442.3,187.7 L442.6,189.6 L442.8,191.6 L443.1,193.5 L443.3,195.5 L443.5,197.5 L443.7,199.4 L443.8,201.4 L443.9,203.4 L444.0,205.4 L444.1,207.3 L444.2,209.3 L444.2,211.3 L444.2,213.2 L444.2,214.9 L444.2,216.6 L444.2,218.3 L444.2,220.1 L444.1,221.8 L444.1,223.5 L444.1,225.2 L444.1,226.9 L444.1,228.6 L444.1,230.3 L444.1,232.0 L444.1,233.7 L444.1,235.4 L444.1,237.1 L444.0,238.8 L444.0,240.5 L444.0,242.2 L444.0,243.9 L444.0,245.6 L444.0,247.4 L444.0,249.1 L444.0,250.8 L444.0,252.5 L444.0,254.2 L443.9,255.9 L443.9,257.6 L443.9,259.3 L443.9,261.0 L443.9,262.7 L443.9,264.4 L443.9,266.1 L443.9,267.8 L443.9,269.5 L443.8,271.2 L443.8,272.9 L443.8,274.7 L443.8,276.4 L443.8,278.1 L443.8,279.8 L443.8,281.5 L443.8,283.2 L443.8,284.9 L443.8,286.6 L443.7,288.3 L443.7,290.0 L443.7,291.7 L443.7,293.4 L443.7,295.1 L443.7,296.8 L443.7,298.5 L443.7,300.2 L443.7,302.0 L443.7,303.7 L443.6,305.4 L443.6,307.1 L443.6,308.8 L443.6,310.5 L443.6,312.2 L443.6,313.9 L443.6,315.6 L443.6,317.3 L443.6,319.0 L443.6,320.7 L443.5,322.4 L443.5,324.1 L443.5,325.8 L443.5,327.5 L443.5,329.2 L443.5,331.0 L443.5,332.7 L443.5,334.4 L443.5,336.1 L443.5,337.8 L443.4,339.5 L443.4,341.2 L443.4,342.9 L443.4,344.6 L443.4,346.3 L443.4,348.0 L443.4,349.7 L443.4,351.4 L443.4,353.1 L443.3,354.8 L443.3,356.5 L443.3,358.3 L443.3,360.0 L443.3,361.7 L443.3,363.4 L443.3,365.1 L443.3,366.8 L443.3,368.5 L443.3,370.2 L443.2,371.9 L443.2,373.6 L443.2,375.3 L443.2,377.0 L443.2,378.7 L443.2,380.4 L443.2,382.1 L443.2,383.8 L443.2,385.6 L443.2,387.3 L443.1,389.0 L443.1,390.7 L443.1,392.4 L443.1,394.1 L443.1,395.8 L443.1,397.5 L443.1,399.2 L443.1,400.9 L443.1,402.6 L443.1,404.3 L443.0,406.0 L443.0,407.7 L443.0,409.4 L443.0,411.1 L443.0,412.9 L443.0,414.6 L443.0,416.3 L443.0,418.0 L443.0,419.7 L442.9,421.4 L442.9,423.1 L442.9,424.8 L442.9,426.5 L442.9,428.2 L442.9,429.9 L442.9,431.6 L442.9,433.3 L442.9,435.0 L442.9,436.7 L442.8,438.4 L442.8,440.2 L442.8,441.9 L442.8,443.6 L442.8,445.3 L442.8,447.0 L442.8,448.7 L442.8,450.4 L442.8,452.1 L442.8,453.8 L442.7,455.5 L442.7,457.2 L442.7,458.9 L442.7,460.6 L442.7,462.3 L442.7,464.0 L442.7,465.7 L442.7,467.4 L442.7,469.2 L442.7,470.9 L442.6,472.6 L442.6,474.3 L442.6,476.0 L442.6,477.7 L442.6,479.4 L442.6,481.1 L442.6,482.8 L442.6,484.5 L442.6,486.2 L442.5,487.9 L442.5,489.6 L442.5,491.3 L442.5,493.0 L442.5,494.7 L442.5,496.5 L442.5,498.2 L442.5,499.9 L442.5,501.6 L442.5,503.3 L442.4,505.0 L442.4,506.7 L442.4,508.4 L442.4,510.1 L442.4,511.8 L442.4,513.5 L442.4,515.2 L442.4,516.9 L442.4,518.6 L442.4,520.3 L442.3,522.0 L442.3,523.8 L442.3,525.5 L442.3,527.2 L442.3,528.9 L442.3,530.6 L442.3,532.3 L442.3,534.0 L442.3,535.7 L442.3,537.4 L442.2,539.1 L442.2,540.8 L442.2,542.5 L442.2,544.2 L442.2,545.9 L442.2,547.6 L442.2,549.3 L442.2,551.1 L442.2,552.8 L442.2,554.5 L442.1,556.2 L442.1,557.9 L442.1,559.6 L442.1,561.3 L442.1,563.0 L442.1,564.7 L442.1,566.4 L442.1,568.1 L442.1,569.8 L442.0,571.5 L442.0,573.2 L442.0,574.9 L442.0,576.6 L442.0,578.4 L442.0,580.1 L442.0,581.8 L442.0,583.5 L442.0,585.2 L442.0,586.9 L441.9,588.6 L441.9,590.3 L441.9,592.0 L436.3,592.0 L436.3,590.3 L436.3,588.5 L436.3,586.8 L436.3,585.1 L436.3,583.4 L436.3,581.6 L436.3,579.9 L436.3,578.2 L436.3,576.5 L436.3,574.7 L436.3,573.0 L436.4,571.3 L436.4,569.5 L436.4,567.8 L436.4,566.1 L436.4,564.4 L436.4,562.6 L436.4,560.9 L436.4,559.2 L436.4,557.5 L436.4,555.7 L436.4,554.0 L436.4,552.3 L436.5,550.5 L436.5,548.8 L436.5,547.1 L436.5,545.4 L436.5,543.6 L436.5,541.9 L436.5,540.2 L436.5,538.4 L436.5,536.7 L436.5,535.0 L436.5,533.3 L436.5,531.5 L436.5,529.8 L436.6,528.1 L436.6,526.4 L436.6,524.6 L436.6,522.9 L436.6,521.2 L436.6,519.4 L436.6,517.7 L436.6,516.0 L436.6,514.3 L436.6,512.5 L436.6,510.8 L436.6,509.1 L436.7,507.4 L436.7,505.6 L436.7,503.9 L436.7,502.2 L436.7,500.4 L436.7,498.7 L436.7,497.0 L436.7,495.3 L436.7,493.5 L436.7,491.8 L436.7,490.1 L436.7,488.4 L436.7,486.6 L436.8,484.9 L436.8,483.2 L436.8,481.4 L436.8,479.7 L436.8,478.0 L436.8,476.3 L436.8,474.5 L436.8,472.8 L436.8,471.1 L436.8,469.4 L436.8,467.6 L436.8,465.9 L436.9,464.2 L436.9,462.4 L436.9,460.7 L436.9,459.0 L436.9,457.3 L436.9,455.5 L436.9,453.8 L436.9,452.1 L436.9,450.3 L436.9,448.6 L436.9,446.9 L436.9,445.2 L436.9,443.4 L437.0,441.7 L437.0,440.0 L437.0,438.3 L437.0,436.5 L437.0,434.8 L437.0,433.1 L437.0,431.3 L437.0,429.6 L437.0,427.9 L437.0,426.2 L437.0,424.4 L437.0,422.7 L437.1,421.0 L437.1,419.3 L437.1,417.5 L437.1,415.8 L437.1,414.1 L437.1,412.3 L437.1,410.6 L437.1,408.9 L437.1,407.2 L437.1,405.4 L437.1,403.7 L437.1,402.0 L437.1,400.3 L437.2,398.5 L437.2,396.8 L437.2,395.1 L437.2,393.3 L437.2,391.6 L437.2,389.9 L437.2,388.2 L437.2,386.4 L437.2,384.7 L437.2,383.0 L437.2,381.2 L437.2,379.5 L437.3,377.8 L437.3,376.1 L437.3,374.3 L437.3,372.6 L437.3,370.9 L437.3,369.2 L437.3,367.4 L437.3,365.7 L437.3,364.0 L437.3,362.2 L437.3,360.5 L437.3,358.8 L437.3,357.1 L437.4,355.3 L437.4,353.6 L437.4,351.9 L437.4,350.2 L437.4,348.4 L437.4,346.7 L437.4,345.0 L437.4,343.2 L437.4,341.5 L437.4,339.8 L437.4,338.1 L437.4,336.3 L437.5,334.6 L437.5,332.9 L437.5,331.2 L437.5,329.4 L437.5,327.7 L437.5,326.0 L437.5,324.2 L437.5,322.5 L437.5,320.8 L437.5,319.1 L437.5,317.3 L437.5,315.6 L437.5,313.9 L437.6,312.2 L437.6,310.4 L437.6,308.7 L437.6,307.0 L437.6,305.2 L437.6,303.5 L437.6,301.8 L437.6,300.1 L437.6,298.3 L437.6,296.6 L437.6,294.9 L437.6,293.1 L437.7,291.4 L437.7,289.7 L437.7,288.0 L437.7,286.2 L437.7,284.5 L437.7,282.8 L437.7,281.1 L437.7,279.3 L437.7,277.6 L437.7,275.9 L437.7,274.1 L437.7,272.4 L437.7,270.7 L437.8,269.0 L437.8,267.2 L437.8,265.5 L437.8,263.8 L437.8,262.1 L437.8,260.3 L437.8,258.6 L437.8,256.9 L437.8,255.1 L437.8,253.4 L437.8,251.7 L437.8,250.0 L437.9,248.2 L437.9,246.5 L437.9,244.8 L437.9,243.1 L437.9,241.3 L437.9,239.6 L437.9,237.9 L437.9,236.1 L437.9,234.4 L437.9,232.7 L437.9,231.0 L437.9,229.2 L438.0,227.5 L438.0,225.8 L438.0,224.1 L438.0,222.3 L438.0,220.6 L438.0,218.9 L438.0,217.1 L438.0,215.4 L438.0,213.7 L438.0,212.0 L438.0,210.2 L438.0,208.5 L438.1,206.7 L438.1,204.9 L438.1,203.1 L438.1,201.3 L438.0,199.5 L438.0,197.7 L437.9,195.9 L437.8,194.1 L437.6,192.3 L437.5,190.5 L437.3,188.7 L437.1,186.9 L436.9,185.1 L436.6,183.3 L436.4,181.5 L436.1,179.8 L435.8,178.0 L435.4,176.2 L435.1,174.4 L434.7,172.6 L434.3,170.9 L433.9,169.1 L433.5,167.4 L433.0,165.6 L432.5,163.9 L432.0,162.1 L431.5,160.4 L430.9,158.7 L430.4,157.0 L429.8,155.2 L429.2,153.5 L428.5,151.9 L427.9,150.2 L427.2,148.5 L426.5,146.8 L425.8,145.2 L425.1,143.6 L424.3,141.9 L423.5,140.3 L422.7,138.7 L421.9,137.1 L421.1,135.5 L420.2,134.0 L419.4,132.4 L418.5,130.9 L417.6,129.3 L416.7,127.8 L415.8,126.3 L414.9,124.8 L413.9,123.3 L413.0,121.8 L412.0,120.3 L411.0,118.9 L409.9,117.5 L408.9,116.1 L407.8,114.6 L406.8,113.3 L405.7,111.9 L404.5,110.5 L403.4,109.2 L402.3,107.9 L401.1,106.6 L399.9,105.3 L398.7,104.0 L397.5,102.8 L396.3,101.5 L395.0,100.3 L393.7,99.1 L392.5,98.0 L391.2,96.8 L389.8,95.7 L388.5,94.6 L387.2,93.5 L385.8,92.4 L384.5,91.4 L383.1,90.3 L381.7,89.3 L380.3,88.4Z" fill="#a2a7b2" opacity="1" />
<path d="M213.4,592.0 L213.4,588.2 L213.4,584.4 L213.3,580.6 L213.3,576.9 L213.3,573.1 L213.3,569.3 L213.2,565.5 L213.2,561.7 L213.2,557.9 L213.1,554.1 L213.1,550.3 L213.1,546.6 L213.0,542.8 L213.0,539.0 L213.0,535.2 L212.9,531.4 L212.9,527.6 L212.9,523.8 L212.8,520.0 L212.8,516.3 L212.8,512.5 L212.8,508.7 L212.7,504.9 L212.7,501.1 L212.7,497.3 L212.6,493.5 L212.6,489.7 L212.6,486.0 L212.5,482.2 L212.5,478.4 L212.5,474.6 L212.4,470.8 L212.4,467.0 L212.4,463.2 L212.3,459.4 L212.3,455.7 L212.3,451.9 L212.3,448.1 L212.2,444.3 L212.2,440.5 L212.2,436.7 L212.1,432.9 L212.1,429.2 L212.1,425.4 L212.0,421.6 L212.0,417.8 L212.0,414.0 L211.9,410.2 L211.9,406.4 L211.9,402.6 L211.8,398.9 L211.8,395.1 L211.8,391.3 L211.8,387.5 L211.7,383.7 L211.7,379.9 L211.7,376.1 L211.6,372.3 L211.6,368.6 L211.6,364.8 L211.5,361.0 L211.5,357.2 L211.5,353.4 L211.4,349.6 L211.4,345.8 L211.4,342.0 L211.3,338.3 L211.3,334.5 L211.3,330.7 L211.3,326.9 L211.2,323.1 L211.2,319.3 L211.2,315.5 L211.1,311.7 L211.1,308.0 L211.1,304.2 L211.0,300.4 L211.0,296.6 L211.0,292.8 L210.9,289.0 L210.9,285.2 L210.9,281.4 L210.9,277.7 L210.8,273.9 L210.8,270.1 L210.8,266.3 L210.7,262.5 L210.7,258.7 L210.7,254.9 L210.6,251.2 L210.6,247.4 L210.6,243.6 L210.5,239.8 L210.5,236.0 L210.5,232.2 L210.4,228.4 L210.4,224.6 L210.4,220.9 L210.4,217.1 L210.3,213.3 L210.4,208.8 L210.6,204.4 L210.8,200.0 L211.2,195.6 L211.8,191.2 L212.4,186.8 L213.1,182.5 L214.0,178.2 L215.0,173.9 L216.1,169.7 L217.2,165.5 L218.6,161.3 L220.0,157.2 L221.5,153.2 L223.1,149.2 L224.8,145.3 L226.6,141.4 L228.6,137.6 L230.6,133.9 L232.7,130.3 L234.9,126.8 L237.2,123.3 L239.6,119.9 L242.1,116.6 L244.7,113.5 L247.3,110.4 L250.0,107.4 L252.8,104.5 L255.7,101.7 L258.6,99.1 L261.7,96.5 L264.7,94.1 L267.9,91.8 L271.1,89.6 L274.3,87.5 L277.6,85.6 L281.0,83.7 L284.4,82.0 L287.8,80.5 L291.3,79.0 L294.8,77.7 L298.4,76.6 L302.0,75.5 L305.6,74.6 L309.2,73.9 L312.8,73.2 L316.5,72.7 L320.2,72.4 L323.9,72.2 L327.5,72.1 L331.2,72.3 L334.9,72.7 L338.5,73.1 L342.2,73.7 L345.8,74.5 L349.4,75.4 L352.9,76.4 L356.4,77.5 L359.9,78.8 L363.4,80.2 L366.8,81.7 L370.1,83.4 L373.4,85.1 L376.7,87.0 L379.9,89.0 L383.0,91.2 L386.1,93.4 L389.1,95.7 L392.0,98.2 L394.9,100.7 L397.7,103.4 L400.4,106.1 L403.0,109.0 L405.6,111.9 L408.1,115.0 L410.5,118.1 L412.8,121.3 L415.0,124.5 L417.1,127.9 L419.1,131.3 L421.1,134.8 L422.9,138.3 L424.6,141.9 L426.3,145.5 L427.8,149.2 L429.2,153.0 L430.6,156.8 L431.8,160.6 L432.9,164.5 L433.9,168.4 L434.8,172.3 L435.6,176.2 L436.3,180.2 L436.9,184.2 L437.3,188.2 L437.7,192.2 L438.0,196.2 L438.1,200.2 L438.1,204.1 L438.0,208.1 L438.0,212.0 L438.0,215.8 L438.0,219.6 L438.0,223.5 L438.0,227.3 L437.9,231.2 L437.9,235.0 L437.9,238.8 L437.9,242.7 L437.9,246.5 L437.8,250.3 L437.8,254.2 L437.8,258.0 L437.8,261.9 L437.8,265.7 L437.8,269.5 L437.7,273.4 L437.7,277.2 L437.7,281.1 L437.7,284.9 L437.7,288.7 L437.6,292.6 L437.6,296.4 L437.6,300.3 L437.6,304.1 L437.6,307.9 L437.6,311.8 L437.5,315.6 L437.5,319.4 L437.5,323.3 L437.5,327.1 L437.5,331.0 L437.5,334.8 L437.4,338.6 L437.4,342.5 L437.4,346.3 L437.4,350.2 L437.4,354.0 L437.3,357.8 L437.3,361.7 L437.3,365.5 L437.3,369.3 L437.3,373.2 L437.3,377.0 L437.2,380.9 L437.2,384.7 L437.2,388.5 L437.2,392.4 L437.2,396.2 L437.2,400.1 L437.1,403.9 L437.1,407.7 L437.1,411.6 L437.1,415.4 L437.1,419.3 L437.0,423.1 L437.0,426.9 L437.0,430.8 L437.0,434.6 L437.0,438.4 L437.0,442.3 L436.9,446.1 L436.9,450.0 L436.9,453.8 L436.9,457.6 L436.9,461.5 L436.8,465.3 L436.8,469.2 L436.8,473.0 L436.8,476.8 L436.8,480.7 L436.8,484.5 L436.7,488.4 L436.7,492.2 L436.7,496.0 L436.7,499.9 L436.7,503.7 L436.7,507.5 L436.6,511.4 L436.6,515.2 L436.6,519.1 L436.6,522.9 L436.6,526.7 L436.5,530.6 L436.5,534.4 L436.5,538.3 L436.5,542.1 L436.5,545.9 L436.5,549.8 L436.4,553.6 L436.4,557.5 L436.4,561.3 L436.4,565.1 L436.4,569.0 L436.3,572.8 L436.3,576.6 L436.3,580.5 L436.3,584.3 L436.3,588.2 L436.3,592.0 L428.0,592.0 L428.0,588.1 L428.0,584.2 L428.1,580.3 L428.1,576.4 L428.1,572.5 L428.1,568.6 L428.1,564.6 L428.1,560.7 L428.1,556.8 L428.1,552.9 L428.1,549.0 L428.1,545.1 L428.2,541.2 L428.2,537.3 L428.2,533.4 L428.2,529.5 L428.2,525.6 L428.2,521.7 L428.2,517.8 L428.2,513.8 L428.2,509.9 L428.3,506.0 L428.3,502.1 L428.3,498.2 L428.3,494.3 L428.3,490.4 L428.3,486.5 L428.3,482.6 L428.3,478.7 L428.3,474.8 L428.3,470.9 L428.4,467.0 L428.4,463.0 L428.4,459.1 L428.4,455.2 L428.4,451.3 L428.4,447.4 L428.4,443.5 L428.4,439.6 L428.4,435.7 L428.5,431.8 L428.5,427.9 L428.5,424.0 L428.5,420.1 L428.5,416.2 L428.5,412.3 L428.5,408.3 L428.5,404.4 L428.5,400.5 L428.6,396.6 L428.6,392.7 L428.6,388.8 L428.6,384.9 L428.6,381.0 L428.6,377.1 L428.6,373.2 L428.6,369.3 L428.6,365.4 L428.6,361.5 L428.7,357.5 L428.7,353.6 L428.7,349.7 L428.7,345.8 L428.7,341.9 L428.7,338.0 L428.7,334.1 L428.7,330.2 L428.7,326.3 L428.8,322.4 L428.8,318.5 L428.8,314.6 L428.8,310.7 L428.8,306.7 L428.8,302.8 L428.8,298.9 L428.8,295.0 L428.8,291.1 L428.8,287.2 L428.9,283.3 L428.9,279.4 L428.9,275.5 L428.9,271.6 L428.9,267.7 L428.9,263.8 L428.9,259.9 L428.9,255.9 L428.9,252.0 L429.0,248.1 L429.0,244.2 L429.0,240.3 L429.0,236.4 L429.0,232.5 L429.0,228.6 L429.0,224.7 L429.0,220.8 L429.0,216.9 L429.0,213.0 L429.1,209.1 L429.1,205.1 L429.1,201.2 L429.3,197.8 L429.4,194.4 L429.4,191.0 L429.3,187.5 L429.2,184.0 L428.9,180.5 L428.5,177.1 L428.0,173.6 L427.4,170.1 L426.7,166.6 L425.9,163.1 L425.0,159.6 L424.0,156.2 L422.8,152.7 L421.6,149.3 L420.3,145.9 L418.9,142.6 L417.4,139.3 L415.8,136.0 L414.1,132.8 L412.3,129.6 L410.4,126.5 L408.4,123.4 L406.3,120.4 L404.1,117.4 L401.9,114.6 L399.5,111.8 L397.0,109.1 L394.5,106.5 L391.9,103.9 L389.2,101.5 L386.5,99.1 L383.6,96.9 L380.7,94.7 L377.8,92.6 L374.8,90.6 L371.7,88.8 L368.5,87.0 L365.3,85.4 L362.1,83.9 L358.8,82.4 L355.5,81.2 L352.1,80.0 L348.7,78.9 L345.2,78.0 L341.8,77.2 L338.3,76.5 L334.7,76.0 L331.2,75.6 L327.6,75.3 L324.0,75.6 L320.5,76.0 L317.0,76.5 L313.5,77.2 L310.0,78.0 L306.6,78.9 L303.2,80.0 L299.8,81.2 L296.5,82.4 L293.2,83.9 L289.9,85.4 L286.8,87.0 L283.6,88.8 L280.6,90.6 L277.5,92.6 L274.6,94.7 L271.7,96.9 L268.9,99.1 L266.1,101.5 L263.5,103.9 L260.9,106.5 L258.3,109.1 L255.9,111.8 L253.5,114.6 L251.3,117.4 L248.8,120.2 L246.4,123.1 L244.0,126.1 L241.8,129.1 L239.6,132.3 L237.5,135.5 L235.5,138.8 L233.5,142.2 L231.7,145.7 L229.9,149.3 L228.3,152.9 L226.7,156.6 L225.2,160.4 L223.8,164.2 L222.6,168.1 L221.4,172.0 L220.3,176.0 L219.3,180.1 L218.5,184.2 L217.7,188.3 L217.1,192.5 L216.5,196.7 L216.1,200.9 L215.8,205.1 L215.5,209.4 L215.6,213.2 L215.6,217.1 L215.6,220.9 L215.7,224.7 L215.7,228.5 L215.7,232.4 L215.8,236.2 L215.8,240.0 L215.8,243.8 L215.9,247.7 L215.9,251.5 L215.9,255.3 L216.0,259.1 L216.0,263.0 L216.0,266.8 L216.1,270.6 L216.1,274.5 L216.2,278.3 L216.2,282.1 L216.2,285.9 L216.3,289.8 L216.3,293.6 L216.3,297.4 L216.4,301.2 L216.4,305.1 L216.4,308.9 L216.5,312.7 L216.5,316.5 L216.5,320.4 L216.6,324.2 L216.6,328.0 L216.6,331.8 L216.7,335.7 L216.7,339.5 L216.7,343.3 L216.8,347.1 L216.8,351.0 L216.8,354.8 L216.9,358.6 L216.9,362.4 L216.9,366.3 L217.0,370.1 L217.0,373.9 L217.0,377.7 L217.1,381.6 L217.1,385.4 L217.1,389.2 L217.2,393.1 L217.2,396.9 L217.2,400.7 L217.3,404.5 L217.3,408.4 L217.3,412.2 L217.4,416.0 L217.4,419.8 L217.4,423.7 L217.5,427.5 L217.5,431.3 L217.5,435.1 L217.6,439.0 L217.6,442.8 L217.6,446.6 L217.7,450.4 L217.7,454.3 L217.7,458.1 L217.8,461.9 L217.8,465.7 L217.8,469.6 L217.9,473.4 L217.9,477.2 L217.9,481.0 L218.0,484.9 L218.0,488.7 L218.0,492.5 L218.1,496.4 L218.1,500.2 L218.2,504.0 L218.2,507.8 L218.2,511.7 L218.3,515.5 L218.3,519.3 L218.3,523.1 L218.4,527.0 L218.4,530.8 L218.4,534.6 L218.5,538.4 L218.5,542.3 L218.5,546.1 L218.6,549.9 L218.6,553.7 L218.6,557.6 L218.7,561.4 L218.7,565.2 L218.7,569.0 L218.8,572.9 L218.8,576.7 L218.8,580.5 L218.9,584.3 L218.9,588.2 L218.9,592.0Z" fill="#f6f7fb" opacity="1" />
<path d="M271.3,141.3 L272.0,140.3 L272.6,139.3 L273.3,138.3 L274.0,137.4 L274.8,136.4 L275.5,135.4 L276.3,134.5 L277.1,133.5 L277.9,132.5 L278.8,131.6 L279.7,130.7 L280.5,129.7 L281.5,128.8 L282.4,127.9 L283.4,127.0 L284.3,126.2 L285.4,125.3 L286.4,124.4 L287.4,123.6 L288.5,122.8 L289.6,121.9 L290.7,121.1 L291.8,120.4 L293.0,119.6 L294.1,118.8 L295.3,118.1 L296.5,117.4 L297.7,116.7 L299.0,116.0 L300.2,115.3 L301.5,114.8 L302.9,114.3 L304.2,113.8 L305.6,113.3 L306.9,112.9 L308.3,112.5 L309.7,112.1 L311.1,111.7 L312.5,111.4 L313.9,111.0 L315.3,110.7 L316.7,110.5 L318.1,110.2 L319.6,110.0 L321.0,109.8 L322.4,109.6 L323.9,109.5 L325.3,109.4 L326.8,109.3 L328.2,109.2 L329.7,109.3 L331.1,109.5 L332.6,109.7 L334.0,109.9 L335.5,110.1 L336.9,110.3 L338.3,110.6 L339.7,110.9 L341.1,111.2 L342.5,111.6 L343.9,111.9 L345.3,112.3 L346.7,112.7 L348.0,113.2 L349.4,113.6 L350.7,114.1 L352.0,114.6 L353.3,115.1 L354.6,115.7 L355.9,116.3 L357.2,116.9 L358.4,117.5 L359.7,118.1 L360.9,118.7 L362.1,119.4 L363.3,120.1 L364.5,120.8 L365.6,121.5 L366.8,122.3 L367.9,123.0 L369.0,123.8 L370.1,124.6 L371.2,125.4 L372.2,126.2 L373.3,127.0 L374.3,127.9 L375.3,128.8 L376.2,129.6 L377.2,130.5 L378.1,131.4 L379.0,132.3 L379.9,133.3 L380.8,134.2 L381.7,135.2 L382.5,136.1 L383.3,137.1 L384.1,138.1 L384.8,139.0 L385.6,140.0 L386.3,141.1 L387.1,142.0 L387.8,143.0 L388.6,144.1 L389.3,145.1 L390.0,146.1 L390.7,147.2 L391.3,148.2 L391.9,149.3 L392.6,150.4 L393.1,151.5 L393.7,152.6 L394.2,153.7 L394.8,154.8 L395.3,155.9 L395.7,157.1 L396.2,158.2 L396.6,159.4 L397.0,160.5 L397.4,161.7 L397.7,162.9 L398.0,164.1 L398.3,165.2 L398.6,166.4 L398.9,167.6 L399.1,168.8 L399.3,170.0 L399.5,171.2 L399.6,172.4 L399.7,173.6 L399.8,174.8 L399.9,176.1 L399.9,177.3 L400.0,178.5 L400.0,180.5 L400.0,183.0 L400.0,185.5 L400.0,188.0 L400.0,190.4 L400.0,192.9 L400.0,195.4 L400.0,197.9 L400.0,200.4 L400.0,202.8 L400.0,205.3 L400.0,207.8 L400.1,210.3 L400.1,212.8 L400.1,215.2 L400.1,217.7 L400.1,220.2 L400.1,222.7 L400.1,225.1 L400.1,227.6 L400.1,230.1 L400.1,232.6 L400.1,235.1 L400.1,237.5 L400.1,240.0 L400.2,242.5 L400.2,245.0 L400.2,247.5 L400.2,249.9 L400.2,252.4 L400.2,254.9 L400.2,257.4 L400.2,259.9 L400.2,262.3 L400.2,264.8 L400.2,267.3 L400.2,269.8 L400.2,272.2 L400.3,274.7 L400.3,277.2 L400.3,279.7 L400.3,282.2 L400.3,284.6 L400.3,287.1 L400.3,289.6 L400.3,292.1 L400.3,294.6 L400.3,297.0 L400.3,299.5 L400.3,302.0 L400.3,304.5 L400.4,306.9 L400.4,309.4 L400.4,311.9 L400.4,314.4 L400.4,316.9 L400.4,319.3 L400.4,321.8 L400.4,324.3 L400.4,326.8 L400.4,329.3 L400.4,331.7 L400.4,334.2 L400.4,336.7 L400.5,339.2 L400.5,341.6 L400.5,344.1 L400.5,346.6 L400.5,349.1 L400.5,351.6 L400.5,354.0 L400.5,356.5 L400.5,359.0 L400.5,361.5 L400.5,364.0 L400.5,366.4 L400.5,368.9 L400.6,371.4 L400.6,373.9 L400.6,376.4 L400.6,378.8 L400.6,381.3 L400.6,383.8 L400.6,386.3 L400.6,388.7 L400.6,391.2 L400.6,393.7 L400.6,396.2 L400.6,398.7 L400.6,401.1 L400.7,403.6 L400.7,406.1 L400.7,408.6 L400.7,411.1 L400.7,413.5 L400.7,416.0 L400.7,418.5 L400.7,421.0 L400.7,423.4 L400.7,425.9 L400.7,428.4 L400.7,430.9 L400.7,433.4 L400.8,435.8 L400.8,438.3 L400.8,440.8 L400.8,443.3 L400.8,445.8 L400.8,448.2 L400.8,450.7 L400.8,453.2 L400.8,455.7 L400.8,458.1 L400.8,460.6 L400.8,463.1 L400.8,465.6 L400.9,468.1 L400.9,470.5 L400.9,473.0 L400.9,475.5 L400.9,478.0 L400.9,480.5 L400.9,482.9 L400.9,485.4 L400.9,487.9 L400.9,490.4 L400.9,492.9 L400.9,495.3 L400.9,497.8 L401.0,500.3 L401.0,502.8 L401.0,505.2 L401.0,507.7 L401.0,510.2 L401.0,512.7 L401.0,515.2 L401.0,517.6 L401.0,520.1 L401.0,522.6 L401.0,525.1 L401.0,527.6 L401.0,530.0 L401.1,532.5 L401.1,535.0 L401.1,537.5 L401.1,539.9 L401.1,542.4 L401.1,544.9 L401.1,547.4 L401.1,549.9 L401.1,552.3 L401.1,554.8 L401.1,557.3 L401.1,559.8 L401.1,562.3 L401.2,564.7 L401.2,567.2 L401.2,569.7 L401.2,572.2 L401.2,574.6 L401.2,577.1 L401.2,579.6 L401.2,582.1 L401.2,584.6 L401.2,587.0 L401.2,589.5 L401.2,592.0 L395.6,592.0 L395.6,589.5 L395.6,587.0 L395.5,584.5 L395.5,582.0 L395.5,579.5 L395.5,577.0 L395.5,574.5 L395.5,571.9 L395.5,569.4 L395.5,566.9 L395.5,564.4 L395.4,561.9 L395.4,559.4 L395.4,556.9 L395.4,554.4 L395.4,551.9 L395.4,549.4 L395.4,546.9 L395.4,544.4 L395.4,541.9 L395.4,539.4 L395.3,536.8 L395.3,534.3 L395.3,531.8 L395.3,529.3 L395.3,526.8 L395.3,524.3 L395.3,521.8 L395.3,519.3 L395.3,516.8 L395.2,514.3 L395.2,511.8 L395.2,509.3 L395.2,506.8 L395.2,504.3 L395.2,501.7 L395.2,499.2 L395.2,496.7 L395.2,494.2 L395.1,491.7 L395.1,489.2 L395.1,486.7 L395.1,484.2 L395.1,481.7 L395.1,479.2 L395.1,476.7 L395.1,474.2 L395.1,471.7 L395.1,469.2 L395.0,466.6 L395.0,464.1 L395.0,461.6 L395.0,459.1 L395.0,456.6 L395.0,454.1 L395.0,451.6 L395.0,449.1 L395.0,446.6 L394.9,444.1 L394.9,441.6 L394.9,439.1 L394.9,436.6 L394.9,434.1 L394.9,431.5 L394.9,429.0 L394.9,426.5 L394.9,424.0 L394.9,421.5 L394.8,419.0 L394.8,416.5 L394.8,414.0 L394.8,411.5 L394.8,409.0 L394.8,406.5 L394.8,404.0 L394.8,401.5 L394.8,399.0 L394.7,396.4 L394.7,393.9 L394.7,391.4 L394.7,388.9 L394.7,386.4 L394.7,383.9 L394.7,381.4 L394.7,378.9 L394.7,376.4 L394.6,373.9 L394.6,371.4 L394.6,368.9 L394.6,366.4 L394.6,363.9 L394.6,361.3 L394.6,358.8 L394.6,356.3 L394.6,353.8 L394.6,351.3 L394.5,348.8 L394.5,346.3 L394.5,343.8 L394.5,341.3 L394.5,338.8 L394.5,336.3 L394.5,333.8 L394.5,331.3 L394.5,328.8 L394.4,326.2 L394.4,323.7 L394.4,321.2 L394.4,318.7 L394.4,316.2 L394.4,313.7 L394.4,311.2 L394.4,308.7 L394.4,306.2 L394.4,303.7 L394.3,301.2 L394.3,298.7 L394.3,296.2 L394.3,293.7 L394.3,291.1 L394.3,288.6 L394.3,286.1 L394.3,283.6 L394.3,281.1 L394.2,278.6 L394.2,276.1 L394.2,273.6 L394.2,271.1 L394.2,268.6 L394.2,266.1 L394.2,263.6 L394.2,261.1 L394.2,258.6 L394.1,256.0 L394.1,253.5 L394.1,251.0 L394.1,248.5 L394.1,246.0 L394.1,243.5 L394.1,241.0 L394.1,238.5 L394.1,236.0 L394.1,233.5 L394.0,231.0 L394.0,228.5 L394.0,226.0 L394.0,223.5 L394.0,220.9 L394.0,218.4 L394.0,215.9 L394.0,213.4 L394.0,210.9 L393.9,208.4 L393.9,205.9 L393.9,203.4 L393.9,200.9 L393.9,198.4 L393.9,195.9 L393.9,193.4 L393.9,190.9 L393.9,188.4 L393.8,185.8 L393.8,183.3 L393.8,180.8 L393.8,178.3 L393.8,175.8 L393.8,173.8 L393.8,172.8 L393.8,171.8 L393.8,170.8 L393.7,169.9 L393.6,168.9 L393.5,167.9 L393.4,166.9 L393.3,165.9 L393.1,164.9 L392.9,163.9 L392.7,162.9 L392.4,161.9 L392.2,160.9 L391.9,159.9 L391.6,159.0 L391.2,158.0 L390.9,157.0 L390.5,156.0 L390.1,155.1 L389.7,154.1 L389.2,153.2 L388.8,152.2 L388.3,151.3 L387.8,150.3 L387.2,149.4 L386.7,148.5 L386.1,147.6 L385.5,146.7 L384.9,145.8 L384.3,144.9 L383.6,144.0 L382.9,143.1 L382.2,142.3 L381.5,141.4 L380.8,140.6 L380.0,139.7 L379.2,138.9 L378.4,138.1 L377.6,137.3 L376.8,136.5 L375.9,135.7 L375.1,135.0 L374.2,134.2 L373.3,133.5 L372.3,132.8 L371.4,132.1 L370.5,131.4 L369.5,130.7 L368.5,130.0 L367.5,129.4 L366.5,128.7 L365.5,128.1 L364.4,127.5 L363.4,126.9 L362.3,126.3 L361.2,125.8 L360.1,125.2 L359.0,124.7 L357.9,124.2 L356.7,123.7 L355.6,123.3 L354.4,122.8 L353.3,122.4 L352.1,122.0 L350.9,121.6 L349.7,121.2 L348.5,120.8 L347.3,120.5 L346.1,120.1 L344.8,119.8 L343.6,119.6 L342.4,119.3 L341.1,119.0 L339.9,118.8 L338.6,118.6 L337.3,118.4 L336.1,118.3 L334.8,118.1 L333.5,118.0 L332.3,117.9 L331.0,117.8 L329.7,117.7 L328.4,117.7 L327.1,117.7 L325.8,117.6 L324.5,117.6 L323.2,117.7 L321.9,117.7 L320.7,117.8 L319.4,117.8 L318.1,117.9 L316.8,118.1 L315.5,118.2 L314.2,118.4 L312.9,118.6 L311.7,118.8 L310.4,119.0 L309.1,119.3 L307.9,119.6 L306.6,119.9 L305.3,120.2 L304.1,120.5 L302.9,120.9 L301.6,121.3 L300.4,121.7 L299.2,122.2 L298.0,122.6 L296.8,123.1 L295.6,123.6 L294.5,124.1 L293.3,124.7 L292.2,125.2 L291.0,125.8 L289.9,126.4 L288.8,127.0 L287.7,127.7 L286.6,128.3 L285.5,129.0 L284.5,129.7 L283.4,130.4 L282.4,131.2 L281.4,131.9 L280.4,132.7 L279.4,133.5 L278.4,134.3 L277.5,135.1 L276.6,135.9 L275.6,136.8 L274.7,137.7 L273.9,138.6 L273.0,139.5 L272.2,140.4 L271.3,141.3Z" fill="#f3f4f9" opacity="1" />
<path d="M259.3,550.9 L259.1,549.4 L259.0,547.9 L258.9,546.4 L258.7,544.9 L258.6,543.4 L258.5,541.9 L258.3,540.4 L258.2,538.9 L258.1,537.4 L258.0,535.9 L257.8,534.4 L257.7,532.9 L257.6,531.4 L257.4,529.9 L257.3,528.4 L257.2,526.9 L257.0,525.4 L256.9,523.9 L256.8,522.5 L256.6,521.0 L256.5,519.5 L256.4,518.0 L256.3,516.5 L256.1,515.0 L256.0,513.5 L255.9,512.0 L255.7,510.6 L255.7,509.1 L255.7,507.6 L255.6,506.1 L255.6,504.6 L255.6,503.1 L255.6,501.6 L255.6,500.1 L255.6,498.6 L255.5,497.1 L255.5,495.6 L255.5,494.1 L255.5,492.6 L255.5,491.1 L255.4,489.6 L255.4,488.1 L255.4,486.5 L255.4,485.0 L255.4,483.5 L255.3,482.0 L255.3,480.5 L255.3,479.0 L255.3,477.5 L255.3,476.0 L255.2,474.5 L255.2,473.0 L255.2,471.5 L255.2,470.0 L255.2,468.5 L255.1,467.0 L255.1,465.5 L255.1,464.0 L255.1,462.5 L255.1,461.0 L255.1,459.5 L255.0,458.0 L255.0,456.5 L255.0,455.0 L255.0,453.5 L255.0,452.0 L254.9,450.5 L254.9,449.0 L254.9,447.5 L254.9,446.0 L254.9,444.5 L254.8,443.0 L254.8,441.5 L254.8,440.0 L254.8,438.5 L254.8,437.0 L254.7,435.5 L254.7,434.0 L254.7,432.5 L254.7,431.0 L254.7,429.5 L254.6,428.0 L254.6,426.5 L254.6,425.0 L254.6,423.5 L254.6,422.0 L254.6,420.5 L254.5,419.0 L254.5,417.5 L254.5,416.0 L254.5,414.5 L254.5,413.0 L254.4,411.5 L254.4,410.0 L254.4,408.5 L254.4,407.0 L254.4,405.5 L254.3,404.0 L254.3,402.5 L254.3,401.0 L254.3,399.5 L254.3,398.0 L254.2,396.5 L254.2,395.0 L254.2,393.5 L254.2,392.0 L254.2,390.5 L254.1,389.0 L254.1,387.5 L254.1,386.0 L254.1,384.5 L254.1,383.0 L254.0,381.5 L254.0,380.0 L254.0,378.5 L254.0,377.0 L254.0,375.5 L254.0,374.0 L253.9,372.5 L253.9,371.0 L253.9,369.5 L253.9,368.0 L253.9,366.5 L253.8,365.0 L253.8,363.5 L253.8,362.0 L253.8,360.5 L253.8,359.0 L253.7,357.5 L253.7,356.0 L253.7,354.5 L253.7,353.0 L253.7,351.5 L253.6,350.0 L253.6,348.5 L253.6,347.0 L253.6,345.5 L253.6,344.0 L253.5,342.5 L253.5,341.0 L253.5,339.5 L253.5,338.0 L253.5,336.5 L253.5,335.0 L253.4,333.5 L253.4,332.0 L253.4,330.5 L253.4,329.0 L253.4,327.5 L253.3,326.0 L253.3,324.5 L253.3,323.0 L253.3,321.5 L253.3,320.0 L253.2,318.5 L253.2,317.0 L253.2,315.5 L253.2,314.0 L253.2,312.5 L253.1,311.0 L253.1,309.5 L253.1,308.0 L253.1,306.5 L253.1,305.0 L253.0,303.5 L253.0,302.0 L253.0,300.5 L253.0,299.0 L253.0,297.5 L253.0,296.0 L252.9,294.5 L252.9,293.0 L252.9,291.5 L252.9,290.0 L252.9,288.5 L252.8,287.0 L252.8,285.5 L252.8,284.0 L252.8,282.5 L252.8,281.0 L252.7,279.5 L252.7,278.0 L252.7,276.5 L252.7,275.0 L252.7,273.5 L252.6,272.0 L252.6,270.5 L252.6,269.0 L252.6,267.5 L252.6,266.0 L252.5,264.5 L252.5,263.0 L252.5,261.5 L252.5,260.0 L252.5,258.5 L252.5,257.0 L252.4,255.5 L252.4,254.0 L252.4,252.5 L252.4,251.0 L252.4,249.5 L252.3,248.0 L252.3,246.5 L252.3,245.0 L252.3,243.5 L252.3,242.0 L252.2,240.5 L252.2,239.0 L252.2,237.5 L252.2,236.0 L252.2,234.5 L252.1,233.0 L252.1,231.5 L252.1,230.0 L252.1,228.4 L252.1,226.9 L252.0,225.4 L252.0,223.9 L252.1,222.4 L252.2,220.8 L252.4,219.2 L252.5,217.6 L252.6,216.0 L252.7,214.4 L252.9,212.8 L253.0,211.2 L253.1,209.6 L253.2,208.0 L253.4,206.4 L253.5,204.8 L253.6,203.2 L253.7,201.6 L253.8,200.0 L254.0,198.3 L254.1,196.7 L254.2,195.1 L254.3,193.5 L254.5,191.9 L254.6,190.3 L254.7,188.7 L254.8,187.1 L254.9,185.5 L255.1,183.8 L255.2,182.2 L255.3,180.6 L255.4,179.4 L255.6,178.5 L255.8,177.7 L255.9,176.8 L256.1,176.0 L256.3,175.1 L256.5,174.3 L256.7,173.5 L256.9,172.6 L257.2,171.8 L257.4,171.0 L257.6,170.2 L257.9,169.4 L258.2,168.6 L258.3,167.9 L258.5,167.1 L258.7,166.4 L258.9,165.7 L259.1,164.9 L259.3,164.2 L259.6,163.5 L259.8,162.8 L260.0,162.0 L260.3,161.3 L260.6,160.6 L260.8,159.9 L261.1,159.2 L261.4,158.5 L261.7,157.8 L262.0,157.2 L262.3,156.5 L262.7,155.8 L263.0,155.1 L263.3,154.5 L263.7,153.8 L264.0,153.1 L264.4,152.5 L264.8,151.8 L265.1,151.2 L265.5,150.5 L265.9,149.9 L266.3,149.3 L266.8,148.7 L267.2,148.0 L267.6,147.4 L268.0,146.8 L268.5,146.2 L268.9,145.6 L269.4,145.0 L269.9,144.4 L270.3,143.9 L270.8,143.3 L271.3,142.7 L271.8,142.1 L272.3,141.6 L274.2,142.1 L273.8,142.7 L273.3,143.2 L272.9,143.8 L272.6,144.3 L272.2,144.9 L271.8,145.4 L271.4,146.0 L271.1,146.5 L270.7,147.1 L270.4,147.6 L270.0,148.2 L269.7,148.8 L269.4,149.3 L269.1,149.9 L268.8,150.5 L268.5,151.1 L268.2,151.6 L267.9,152.2 L267.6,152.8 L267.4,153.4 L267.1,154.0 L266.9,154.6 L266.7,155.1 L266.4,155.7 L266.2,156.3 L266.0,156.9 L265.8,157.5 L265.6,158.1 L265.4,158.7 L265.2,159.3 L265.1,159.9 L264.9,160.5 L264.8,161.0 L264.6,161.6 L264.5,162.2 L264.4,162.8 L264.3,163.4 L264.2,164.0 L264.1,164.6 L264.0,165.2 L263.9,165.8 L263.7,166.5 L263.5,167.1 L263.3,167.8 L263.1,168.5 L262.9,169.1 L262.8,169.8 L262.6,170.5 L262.5,171.2 L262.4,171.9 L262.2,172.6 L262.1,173.3 L262.0,174.0 L261.9,174.7 L261.8,175.8 L261.7,177.4 L261.7,179.0 L261.6,180.6 L261.5,182.2 L261.5,183.8 L261.4,185.4 L261.3,187.0 L261.2,188.6 L261.2,190.2 L261.1,191.8 L261.0,193.3 L261.0,194.9 L260.9,196.5 L260.8,198.1 L260.7,199.7 L260.7,201.3 L260.6,202.9 L260.5,204.5 L260.5,206.1 L260.4,207.6 L260.3,209.2 L260.2,210.8 L260.2,212.4 L260.1,214.0 L260.0,215.6 L260.0,217.2 L259.9,218.7 L259.9,220.2 L259.9,221.8 L260.0,223.3 L260.0,224.8 L260.0,226.3 L260.0,227.9 L260.0,229.4 L260.1,230.9 L260.1,232.4 L260.1,233.9 L260.1,235.5 L260.1,237.0 L260.2,238.5 L260.2,240.0 L260.2,241.6 L260.2,243.1 L260.3,244.6 L260.3,246.1 L260.3,247.6 L260.3,249.2 L260.3,250.7 L260.4,252.2 L260.4,253.7 L260.4,255.3 L260.4,256.8 L260.4,258.3 L260.5,259.8 L260.5,261.3 L260.5,262.9 L260.5,264.4 L260.5,265.9 L260.6,267.4 L260.6,268.9 L260.6,270.5 L260.6,272.0 L260.6,273.5 L260.7,275.0 L260.7,276.6 L260.7,278.1 L260.7,279.6 L260.7,281.1 L260.8,282.6 L260.8,284.2 L260.8,285.7 L260.8,287.2 L260.9,288.7 L260.9,290.3 L260.9,291.8 L260.9,293.3 L260.9,294.8 L261.0,296.3 L261.0,297.9 L261.0,299.4 L261.0,300.9 L261.0,302.4 L261.1,304.0 L261.1,305.5 L261.1,307.0 L261.1,308.5 L261.1,310.0 L261.2,311.6 L261.2,313.1 L261.2,314.6 L261.2,316.1 L261.2,317.6 L261.3,319.2 L261.3,320.7 L261.3,322.2 L261.3,323.7 L261.4,325.3 L261.4,326.8 L261.4,328.3 L261.4,329.8 L261.4,331.3 L261.5,332.9 L261.5,334.4 L261.5,335.9 L261.5,337.4 L261.5,339.0 L261.6,340.5 L261.6,342.0 L261.6,343.5 L261.6,345.0 L261.6,346.6 L261.7,348.1 L261.7,349.6 L261.7,351.1 L261.7,352.7 L261.7,354.2 L261.8,355.7 L261.8,357.2 L261.8,358.7 L261.8,360.3 L261.8,361.8 L261.9,363.3 L261.9,364.8 L261.9,366.3 L261.9,367.9 L262.0,369.4 L262.0,370.9 L262.0,372.4 L262.0,374.0 L262.0,375.5 L262.1,377.0 L262.1,378.5 L262.1,380.0 L262.1,381.6 L262.1,383.1 L262.2,384.6 L262.2,386.1 L262.2,387.7 L262.2,389.2 L262.2,390.7 L262.3,392.2 L262.3,393.7 L262.3,395.3 L262.3,396.8 L262.3,398.3 L262.4,399.8 L262.4,401.4 L262.4,402.9 L262.4,404.4 L262.4,405.9 L262.5,407.4 L262.5,409.0 L262.5,410.5 L262.5,412.0 L262.6,413.5 L262.6,415.0 L262.6,416.6 L262.6,418.1 L262.6,419.6 L262.7,421.1 L262.7,422.7 L262.7,424.2 L262.7,425.7 L262.7,427.2 L262.8,428.7 L262.8,430.3 L262.8,431.8 L262.8,433.3 L262.8,434.8 L262.9,436.4 L262.9,437.9 L262.9,439.4 L262.9,440.9 L262.9,442.4 L263.0,444.0 L263.0,445.5 L263.0,447.0 L263.0,448.5 L263.1,450.1 L263.1,451.6 L263.1,453.1 L263.1,454.6 L263.1,456.1 L263.2,457.7 L263.2,459.2 L263.2,460.7 L263.2,462.2 L263.2,463.7 L263.3,465.3 L263.3,466.8 L263.3,468.3 L263.3,469.8 L263.3,471.4 L263.4,472.9 L263.4,474.4 L263.4,475.9 L263.4,477.4 L263.4,479.0 L263.5,480.5 L263.5,482.0 L263.5,483.5 L263.5,485.1 L263.5,486.6 L263.6,488.1 L263.6,489.6 L263.6,491.1 L263.6,492.7 L263.7,494.2 L263.7,495.7 L263.7,497.2 L263.7,498.8 L263.7,500.3 L263.8,501.8 L263.8,503.3 L263.8,504.8 L263.8,506.4 L263.8,507.9 L263.8,509.4 L263.7,511.0 L263.6,512.5 L263.5,514.0 L263.3,515.6 L263.2,517.1 L263.1,518.6 L263.0,520.2 L262.8,521.7 L262.7,523.3 L262.6,524.8 L262.5,526.3 L262.3,527.9 L262.2,529.4 L262.1,530.9 L262.0,532.5 L261.8,534.0 L261.7,535.5 L261.6,537.0 L261.5,538.6 L261.3,540.1 L261.2,541.6 L261.1,543.2 L261.0,544.7 L260.8,546.2 L260.7,547.7 L260.6,549.3 L260.5,550.8Z" fill="#8a9194" opacity="1" />
<path d="M241.3,576.1 L241.2,574.2 L241.0,572.3 L240.8,570.4 L240.7,568.5 L240.5,566.7 L240.3,564.8 L240.2,562.9 L240.0,561.0 L239.8,559.2 L239.7,557.3 L239.5,555.4 L239.3,553.5 L239.2,551.7 L239.1,549.8 L239.0,547.9 L238.9,546.1 L238.8,544.2 L238.7,542.3 L238.6,540.4 L238.4,538.6 L238.3,536.7 L238.2,534.8 L238.1,533.0 L238.0,531.1 L237.9,529.2 L237.8,527.4 L237.7,525.5 L237.6,523.6 L237.5,521.8 L237.4,519.9 L237.3,518.0 L237.2,516.2 L237.1,514.3 L237.0,512.4 L236.9,510.6 L236.8,508.7 L236.7,506.9 L236.6,505.0 L236.5,503.1 L236.4,501.3 L236.3,499.4 L236.2,497.5 L236.2,495.7 L236.1,493.8 L236.0,492.0 L235.9,490.1 L235.8,488.3 L235.7,486.4 L235.6,484.5 L235.5,482.7 L235.4,480.8 L235.4,479.0 L235.3,477.1 L235.2,475.3 L235.1,473.4 L235.0,471.5 L234.9,469.7 L234.8,467.8 L234.7,466.0 L234.7,464.1 L234.6,462.3 L234.5,460.4 L234.4,458.6 L234.3,456.7 L234.2,454.9 L234.1,453.0 L234.0,451.2 L233.9,449.3 L233.9,447.5 L233.8,445.6 L233.7,443.8 L233.6,441.9 L233.5,440.1 L233.4,438.3 L233.3,436.4 L233.2,434.6 L233.2,432.7 L233.1,430.9 L233.0,429.0 L232.9,427.2 L232.8,425.3 L232.7,423.5 L232.6,421.7 L232.5,419.8 L232.5,418.0 L232.4,416.1 L232.3,414.3 L232.3,412.4 L232.3,410.6 L232.2,408.7 L232.2,406.8 L232.2,405.0 L232.2,403.1 L232.1,401.3 L232.1,399.4 L232.1,397.5 L232.1,395.7 L232.0,393.8 L232.0,392.0 L232.0,390.1 L232.0,388.3 L231.9,386.4 L231.9,384.5 L231.9,382.7 L231.9,380.8 L231.8,379.0 L231.8,377.1 L231.8,375.2 L231.8,373.4 L231.7,371.5 L231.7,369.7 L231.7,367.8 L231.7,365.9 L231.6,364.1 L231.6,362.2 L231.6,360.4 L231.6,358.5 L231.5,356.6 L231.5,354.8 L231.5,352.9 L231.5,351.1 L231.4,349.2 L231.4,347.3 L231.4,345.5 L231.4,343.6 L231.3,341.8 L231.3,339.9 L231.3,338.1 L231.3,336.2 L231.2,334.3 L231.2,332.5 L231.2,330.6 L231.2,328.8 L231.1,326.9 L231.1,325.0 L231.1,323.2 L231.1,321.3 L231.0,319.5 L231.0,317.6 L231.0,315.8 L231.0,313.9 L231.0,312.0 L230.9,310.2 L230.9,308.3 L230.9,306.5 L230.9,304.6 L230.8,302.7 L230.8,300.9 L230.8,299.0 L230.8,297.2 L230.7,295.3 L230.7,293.5 L230.7,291.6 L230.7,289.7 L230.6,287.9 L230.6,286.0 L230.6,284.2 L230.6,282.3 L230.5,280.5 L230.5,278.6 L230.5,276.7 L230.5,274.9 L230.4,273.0 L230.4,271.2 L230.4,269.3 L230.4,267.4 L230.3,265.6 L230.3,263.7 L230.3,261.9 L230.3,260.0 L230.2,258.2 L230.2,256.3 L230.2,254.4 L230.2,252.6 L230.1,250.7 L230.1,248.9 L230.1,247.0 L230.1,245.2 L230.0,243.3 L230.0,241.4 L230.0,239.6 L230.0,237.7 L229.9,235.9 L229.9,234.0 L229.9,232.2 L229.9,230.3 L229.8,228.5 L229.8,226.6 L229.8,224.7 L229.8,222.9 L229.7,221.0 L229.7,219.2 L229.7,217.3 L229.7,215.5 L229.7,213.6 L229.6,211.7 L229.6,209.9 L229.6,208.0 L229.6,206.2 L229.5,204.3 L229.5,202.5 L229.5,200.6 L229.5,198.8 L229.5,197.2 L229.5,195.5 L229.6,193.9 L229.7,192.3 L229.8,190.7 L229.9,189.0 L230.0,187.4 L230.2,185.8 L230.4,184.2 L230.6,182.6 L230.8,181.0 L231.1,179.4 L231.3,177.8 L231.6,176.2 L232.0,174.6 L232.3,173.0 L232.7,171.4 L233.0,169.8 L233.4,168.3 L233.9,166.7 L234.3,165.2 L234.8,163.6 L235.3,162.1 L235.8,160.6 L236.3,159.0 L236.9,157.5 L237.4,156.0 L238.0,154.5 L238.6,153.1 L239.3,151.6 L239.9,150.1 L240.6,148.7 L241.3,147.2 L242.0,145.8 L242.7,144.4 L243.5,143.0 L244.2,141.6 L245.0,140.2 L245.8,138.9 L246.7,137.5 L247.5,136.2 L248.4,134.9 L249.2,133.6 L250.1,132.3 L251.0,131.0 L251.9,129.7 L252.9,128.5 L253.8,127.3 L254.8,126.1 L255.8,124.9 L256.8,123.7 L257.8,122.5 L258.9,121.4 L260.1,120.3 L261.2,119.3 L262.4,118.3 L263.6,117.3 L264.8,116.3 L266.0,115.4 L267.2,114.5 L268.5,113.6 L269.7,112.7 L270.9,111.9 L272.2,111.0 L273.5,110.2 L274.7,109.4 L276.0,108.7 L277.3,108.0 L278.6,107.3 L279.9,106.6 L281.2,105.9 L282.5,105.3 L283.9,104.7 L285.2,104.1 L286.5,103.5 L287.9,103.0 L289.2,102.4 L290.6,102.0 L291.9,101.5 L293.3,101.0 L294.7,100.8 L296.1,100.5 L297.5,100.3 L299.0,100.1 L300.4,99.9 L301.8,99.8 L303.2,99.7 L304.6,99.6 L306.0,99.5 L307.4,99.5 L308.8,99.5 L310.2,99.5 L311.6,99.5 L312.9,99.6 L314.3,99.6 L315.6,99.8 L317.0,99.9 L317.2,101.4 L316.0,101.7 L314.7,101.9 L313.5,102.2 L312.2,102.5 L311.0,102.8 L309.7,103.2 L308.5,103.5 L307.3,103.9 L306.1,104.3 L304.9,104.7 L303.7,105.1 L302.5,105.5 L301.3,106.0 L300.1,106.5 L298.9,107.0 L297.7,107.5 L296.6,108.0 L295.4,108.4 L294.2,108.8 L293.0,109.3 L291.8,109.8 L290.6,110.3 L289.4,110.8 L288.2,111.3 L287.1,111.9 L285.9,112.5 L284.8,113.1 L283.6,113.7 L282.5,114.3 L281.3,115.0 L280.2,115.7 L279.1,116.3 L278.0,117.1 L276.9,117.8 L275.8,118.5 L274.7,119.3 L273.7,120.1 L272.6,120.9 L271.6,121.7 L270.5,122.5 L269.5,123.4 L268.5,124.3 L267.5,125.2 L266.5,126.1 L265.5,127.0 L264.6,128.0 L263.6,128.9 L262.7,129.9 L261.8,130.9 L260.9,131.9 L260.1,133.0 L259.2,134.0 L258.3,135.1 L257.5,136.1 L256.7,137.2 L255.9,138.3 L255.1,139.5 L254.3,140.6 L253.5,141.7 L252.8,142.9 L252.1,144.1 L251.4,145.3 L250.7,146.4 L250.0,147.7 L249.3,148.9 L248.7,150.1 L248.0,151.4 L247.4,152.6 L246.8,153.9 L246.2,155.2 L245.7,156.5 L245.1,157.8 L244.6,159.1 L244.1,160.4 L243.6,161.7 L243.1,163.0 L242.6,164.4 L242.1,165.8 L241.6,167.2 L241.1,168.6 L240.7,170.0 L240.2,171.4 L239.8,172.9 L239.4,174.3 L239.0,175.8 L238.6,177.3 L238.3,178.8 L237.9,180.2 L237.6,181.7 L237.3,183.3 L237.1,184.8 L236.8,186.3 L236.6,187.8 L236.4,189.4 L236.2,190.9 L236.0,192.5 L235.9,194.1 L235.9,195.9 L235.9,197.8 L235.9,199.7 L235.9,201.5 L236.0,203.4 L236.0,205.3 L236.0,207.2 L236.0,209.0 L236.1,210.9 L236.1,212.8 L236.1,214.7 L236.1,216.6 L236.2,218.4 L236.2,220.3 L236.2,222.2 L236.3,224.1 L236.3,226.0 L236.3,227.8 L236.3,229.7 L236.4,231.6 L236.4,233.5 L236.4,235.4 L236.4,237.2 L236.5,239.1 L236.5,241.0 L236.5,242.9 L236.5,244.7 L236.6,246.6 L236.6,248.5 L236.6,250.4 L236.6,252.3 L236.7,254.1 L236.7,256.0 L236.7,257.9 L236.7,259.8 L236.8,261.7 L236.8,263.5 L236.8,265.4 L236.9,267.3 L236.9,269.2 L236.9,271.1 L236.9,272.9 L237.0,274.8 L237.0,276.7 L237.0,278.6 L237.0,280.5 L237.1,282.3 L237.1,284.2 L237.1,286.1 L237.1,288.0 L237.2,289.9 L237.2,291.7 L237.2,293.6 L237.2,295.5 L237.3,297.4 L237.3,299.3 L237.3,301.1 L237.3,303.0 L237.4,304.9 L237.4,306.8 L237.4,308.7 L237.5,310.5 L237.5,312.4 L237.5,314.3 L237.5,316.2 L237.6,318.1 L237.6,320.0 L237.6,321.8 L237.6,323.7 L237.7,325.6 L237.7,327.5 L237.7,329.4 L237.7,331.2 L237.8,333.1 L237.8,335.0 L237.8,336.9 L237.8,338.8 L237.9,340.6 L237.9,342.5 L237.9,344.4 L237.9,346.3 L238.0,348.2 L238.0,350.0 L238.0,351.9 L238.1,353.8 L238.1,355.7 L238.1,357.6 L238.1,359.5 L238.2,361.3 L238.2,363.2 L238.2,365.1 L238.2,367.0 L238.3,368.9 L238.3,370.7 L238.3,372.6 L238.3,374.5 L238.4,376.4 L238.4,378.3 L238.4,380.2 L238.4,382.0 L238.5,383.9 L238.5,385.8 L238.5,387.7 L238.6,389.6 L238.6,391.4 L238.6,393.3 L238.6,395.2 L238.7,397.1 L238.7,399.0 L238.7,400.9 L238.7,402.7 L238.8,404.6 L238.8,406.5 L238.8,408.4 L238.8,410.3 L238.9,412.2 L238.9,414.0 L239.0,415.9 L239.1,417.7 L239.2,419.6 L239.3,421.5 L239.4,423.3 L239.5,425.2 L239.6,427.1 L239.6,428.9 L239.7,430.8 L239.8,432.7 L239.9,434.5 L240.0,436.4 L240.1,438.3 L240.2,440.1 L240.3,442.0 L240.4,443.9 L240.5,445.8 L240.5,447.6 L240.6,449.5 L240.7,451.4 L240.8,453.2 L240.9,455.1 L241.0,457.0 L241.1,458.9 L241.2,460.7 L241.3,462.6 L241.3,464.5 L241.4,466.4 L241.5,468.2 L241.6,470.1 L241.7,472.0 L241.8,473.9 L241.9,475.7 L242.0,477.6 L242.1,479.5 L242.2,481.4 L242.2,483.3 L242.3,485.1 L242.4,487.0 L242.5,488.9 L242.6,490.8 L242.7,492.7 L242.8,494.5 L242.9,496.4 L243.0,498.3 L243.1,500.2 L243.1,502.1 L243.2,504.0 L243.3,505.8 L243.4,507.7 L243.5,509.6 L243.6,511.5 L243.7,513.4 L243.7,515.3 L243.8,517.2 L243.8,519.1 L243.9,521.0 L243.9,522.9 L244.0,524.7 L244.0,526.6 L244.1,528.5 L244.1,530.4 L244.2,532.3 L244.2,534.2 L244.3,536.1 L244.3,538.0 L244.4,539.9 L244.4,541.8 L244.5,543.7 L244.5,545.6 L244.6,547.5 L244.6,549.4 L244.7,551.3 L244.6,553.2 L244.5,555.1 L244.4,557.0 L244.2,558.9 L244.1,560.8 L244.0,562.7 L243.9,564.6 L243.8,566.5 L243.6,568.4 L243.5,570.3 L243.4,572.2 L243.3,574.1 L243.1,576.0Z" fill="#1c1d24" opacity="1" />
<path d="M334.2,86.1 L335.8,86.3 L337.3,86.5 L338.9,86.8 L340.4,87.0 L341.9,87.3 L343.4,87.7 L345.0,88.0 L346.5,88.4 L348.0,88.8 L349.5,89.2 L351.0,89.6 L352.5,90.1 L353.9,90.6 L355.4,91.1 L356.9,91.7 L358.3,92.2 L359.7,92.9 L361.2,93.5 L362.6,94.2 L363.9,95.0 L365.3,95.7 L366.7,96.5 L368.0,97.3 L369.3,98.1 L370.7,98.9 L372.0,99.8 L373.3,100.6 L374.5,101.5 L375.8,102.4 L377.0,103.4 L378.3,104.3 L379.5,105.3 L380.7,106.3 L381.9,107.3 L383.0,108.3 L384.2,109.3 L385.3,110.4 L386.5,111.4 L387.6,112.5 L388.6,113.6 L389.7,114.7 L390.8,115.9 L391.8,117.0 L392.8,118.2 L393.8,119.3 L394.8,120.5 L395.7,121.7 L396.7,122.9 L397.6,124.1 L398.6,125.3 L399.5,126.5 L400.4,127.8 L401.3,129.0 L402.2,130.3 L403.0,131.6 L403.9,132.8 L404.7,134.1 L405.5,135.4 L406.2,136.8 L407.0,138.1 L407.7,139.4 L408.4,140.8 L409.1,142.1 L409.8,143.5 L410.5,144.9 L411.1,146.3 L411.7,147.6 L412.3,149.0 L412.9,150.4 L413.4,151.8 L414.0,153.3 L414.5,154.7 L415.0,156.1 L415.4,157.5 L415.9,159.0 L416.3,160.4 L416.7,161.9 L417.1,163.3 L417.4,164.8 L417.8,166.2 L418.1,167.7 L418.4,169.1 L418.7,170.6 L418.9,172.1 L419.2,173.5 L419.4,175.0 L419.6,176.5 L419.7,177.9 L419.9,179.4 L420.0,180.8 L420.1,182.3 L420.2,183.8 L420.2,185.2 L420.3,186.7 L420.3,188.1 L420.3,189.6 L420.3,191.0 L420.2,192.5 L420.1,193.9 L420.1,195.7 L420.1,197.6 L420.1,199.5 L420.1,201.5 L420.1,203.4 L420.1,205.3 L420.1,207.2 L420.1,209.2 L420.2,211.1 L420.2,213.0 L420.2,214.9 L420.2,216.9 L420.2,218.8 L420.2,220.7 L420.2,222.6 L420.2,224.6 L420.2,226.5 L420.2,228.4 L420.2,230.4 L420.2,232.3 L420.2,234.2 L420.2,236.1 L420.2,238.1 L420.2,240.0 L420.2,241.9 L420.2,243.8 L420.2,245.8 L420.2,247.7 L420.2,249.6 L420.2,251.5 L420.2,253.5 L420.2,255.4 L420.2,257.3 L420.2,259.2 L420.2,261.2 L420.3,263.1 L420.3,265.0 L420.3,266.9 L420.3,268.8 L420.3,270.8 L420.3,272.7 L420.3,274.6 L420.3,276.5 L420.3,278.5 L420.3,280.4 L420.3,282.3 L420.3,284.2 L420.3,286.2 L420.3,288.1 L420.3,290.0 L420.3,291.9 L420.3,293.9 L420.3,295.8 L420.3,297.7 L420.3,299.6 L420.3,301.6 L420.3,303.5 L420.3,305.4 L420.3,307.3 L420.3,309.3 L420.3,311.2 L420.3,313.1 L420.3,315.0 L420.4,317.0 L420.4,318.9 L420.4,320.8 L420.4,322.7 L420.4,324.6 L420.4,326.6 L420.4,328.5 L420.4,330.4 L420.4,332.3 L420.4,334.3 L420.4,336.2 L420.4,338.1 L420.4,340.0 L420.4,342.0 L420.4,343.9 L420.4,345.8 L420.4,347.7 L420.4,349.6 L420.4,351.6 L420.4,353.5 L420.4,355.4 L420.4,357.3 L420.4,359.3 L420.4,361.2 L420.4,363.1 L420.4,365.0 L420.4,366.9 L420.4,368.9 L420.4,370.8 L420.5,372.7 L420.5,374.6 L420.5,376.6 L420.5,378.5 L420.5,380.4 L420.5,382.3 L420.5,384.2 L420.5,386.2 L420.5,388.1 L420.5,390.0 L420.5,391.9 L420.5,393.9 L420.5,395.8 L420.5,397.7 L420.6,399.7 L420.6,401.6 L420.6,403.5 L420.7,405.4 L420.7,407.4 L420.7,409.3 L420.7,411.2 L420.8,413.2 L420.8,415.1 L420.8,417.0 L420.9,419.0 L420.9,420.9 L420.9,422.8 L420.9,424.7 L421.0,426.7 L421.0,428.6 L421.0,430.5 L421.0,432.4 L421.1,434.4 L421.1,436.3 L421.1,438.2 L421.2,440.2 L421.2,442.1 L421.2,444.0 L421.2,445.9 L421.3,447.9 L421.3,449.8 L421.3,451.7 L421.3,453.6 L421.4,455.6 L421.4,457.5 L421.4,459.4 L421.5,461.3 L421.5,463.3 L421.5,465.2 L421.5,467.1 L421.6,469.0 L421.6,470.9 L421.6,472.9 L421.6,474.8 L421.7,476.7 L421.7,478.6 L421.7,480.6 L421.7,482.5 L421.8,484.4 L421.8,486.3 L421.8,488.2 L421.9,490.2 L421.9,492.1 L421.9,494.0 L421.9,495.9 L422.0,497.8 L422.0,499.8 L422.0,501.7 L422.0,503.6 L422.1,505.5 L422.1,507.4 L422.1,509.3 L422.1,511.3 L422.2,513.2 L422.2,515.1 L422.2,517.0 L422.3,518.9 L422.3,520.9 L422.3,522.8 L422.3,524.7 L422.4,526.6 L422.4,528.5 L422.4,530.4 L422.4,532.3 L422.4,534.3 L422.3,536.2 L422.2,538.1 L422.2,540.0 L422.1,541.9 L422.0,543.8 L421.9,545.7 L421.9,547.6 L421.8,549.5 L421.7,551.4 L421.6,553.3 L421.6,555.2 L421.5,557.1 L421.4,559.0 L421.3,560.9 L421.2,562.9 L421.0,564.8 L420.9,566.7 L420.7,568.6 L420.5,570.5 L420.4,572.4 L420.2,574.3 L420.1,576.2 L419.9,578.2 L419.8,580.1 L418.2,580.0 L418.1,578.1 L417.9,576.2 L417.8,574.2 L417.6,572.3 L417.5,570.4 L417.3,568.4 L417.2,566.5 L417.0,564.5 L416.9,562.6 L416.7,560.7 L416.6,558.7 L416.5,556.8 L416.4,554.8 L416.3,552.9 L416.2,550.9 L416.1,549.0 L416.0,547.0 L415.9,545.1 L415.8,543.1 L415.7,541.2 L415.5,539.2 L415.4,537.3 L415.3,535.3 L415.2,533.4 L415.1,531.4 L415.1,529.5 L415.1,527.5 L415.0,525.6 L415.0,523.7 L414.9,521.7 L414.9,519.8 L414.9,517.8 L414.8,515.9 L414.8,513.9 L414.8,512.0 L414.7,510.0 L414.7,508.1 L414.7,506.1 L414.6,504.2 L414.6,502.2 L414.5,500.3 L414.5,498.3 L414.5,496.4 L414.4,494.4 L414.4,492.5 L414.4,490.5 L414.3,488.6 L414.3,486.6 L414.2,484.7 L414.2,482.7 L414.2,480.8 L414.1,478.8 L414.1,476.9 L414.1,474.9 L414.0,473.0 L414.0,471.0 L414.0,469.0 L413.9,467.1 L413.9,465.1 L413.8,463.2 L413.8,461.2 L413.8,459.3 L413.7,457.3 L413.7,455.4 L413.7,453.4 L413.6,451.4 L413.6,449.5 L413.5,447.5 L413.5,445.6 L413.5,443.6 L413.4,441.7 L413.4,439.7 L413.3,437.7 L413.3,435.8 L413.3,433.8 L413.2,431.9 L413.2,429.9 L413.2,427.9 L413.1,426.0 L413.1,424.0 L413.0,422.1 L413.0,420.1 L413.0,418.1 L412.9,416.2 L412.9,414.2 L412.9,412.3 L412.8,410.3 L412.8,408.3 L412.7,406.4 L412.7,404.4 L412.7,402.4 L412.6,400.5 L412.6,398.5 L412.5,396.5 L412.5,394.6 L412.5,392.6 L412.4,390.6 L412.4,388.7 L412.4,386.7 L412.4,384.8 L412.4,382.8 L412.4,380.9 L412.4,378.9 L412.4,377.0 L412.4,375.0 L412.4,373.1 L412.4,371.1 L412.4,369.2 L412.3,367.2 L412.3,365.2 L412.3,363.3 L412.3,361.3 L412.3,359.4 L412.3,357.4 L412.3,355.5 L412.3,353.5 L412.3,351.6 L412.3,349.6 L412.3,347.7 L412.3,345.7 L412.3,343.8 L412.3,341.8 L412.3,339.8 L412.2,337.9 L412.2,335.9 L412.2,334.0 L412.2,332.0 L412.2,330.1 L412.2,328.1 L412.2,326.2 L412.2,324.2 L412.2,322.3 L412.2,320.3 L412.2,318.3 L412.2,316.4 L412.2,314.4 L412.2,312.5 L412.2,310.5 L412.1,308.6 L412.1,306.6 L412.1,304.7 L412.1,302.7 L412.1,300.8 L412.1,298.8 L412.1,296.8 L412.1,294.9 L412.1,292.9 L412.1,291.0 L412.1,289.0 L412.1,287.1 L412.1,285.1 L412.1,283.2 L412.1,281.2 L412.0,279.2 L412.0,277.3 L412.0,275.3 L412.0,273.4 L412.0,271.4 L412.0,269.5 L412.0,267.5 L412.0,265.6 L412.0,263.6 L412.0,261.6 L412.0,259.7 L412.0,257.7 L412.0,255.8 L412.0,253.8 L411.9,251.9 L411.9,249.9 L411.9,248.0 L411.9,246.0 L411.9,244.0 L411.9,242.1 L411.9,240.1 L411.9,238.2 L411.9,236.2 L411.9,234.3 L411.9,232.3 L411.9,230.4 L411.9,228.4 L411.9,226.4 L411.9,224.5 L411.8,222.5 L411.8,220.6 L411.8,218.6 L411.8,216.7 L411.8,214.7 L411.8,212.7 L411.8,210.8 L411.8,208.8 L411.8,206.9 L411.8,204.9 L411.8,203.0 L411.8,201.0 L411.8,199.0 L411.8,197.1 L411.7,195.1 L411.7,193.2 L411.7,191.2 L411.7,189.3 L411.7,187.5 L411.8,186.3 L411.8,185.1 L411.8,183.8 L411.8,182.6 L411.8,181.3 L411.7,180.1 L411.7,178.8 L411.6,177.6 L411.5,176.3 L411.4,175.1 L411.2,173.8 L411.0,172.6 L410.9,171.3 L410.7,170.1 L410.4,168.8 L410.2,167.6 L409.9,166.3 L409.7,165.1 L409.4,163.8 L409.0,162.6 L408.7,161.3 L408.3,160.1 L408.0,158.9 L407.6,157.7 L407.1,156.4 L406.7,155.2 L406.3,154.0 L405.8,152.8 L405.3,151.6 L404.8,150.4 L404.3,149.2 L403.7,148.0 L403.1,146.8 L402.6,145.7 L402.0,144.5 L401.3,143.3 L400.7,142.2 L400.0,141.0 L399.4,139.9 L398.7,138.8 L398.0,137.7 L397.2,136.6 L396.5,135.5 L395.7,134.4 L395.0,133.3 L394.2,132.2 L393.4,131.2 L392.5,130.1 L391.7,129.1 L390.8,128.1 L390.0,127.1 L389.2,126.0 L388.4,124.9 L387.6,123.9 L386.8,122.8 L386.0,121.7 L385.1,120.7 L384.3,119.6 L383.4,118.6 L382.5,117.5 L381.6,116.5 L380.6,115.5 L379.6,114.5 L378.7,113.5 L377.7,112.5 L376.7,111.5 L375.6,110.5 L374.6,109.6 L373.5,108.6 L372.4,107.7 L371.3,106.8 L370.2,105.9 L369.0,105.0 L367.9,104.1 L366.7,103.3 L365.5,102.4 L364.3,101.6 L363.1,100.8 L361.8,100.0 L360.6,99.2 L359.3,98.5 L358.0,97.7 L356.7,97.0 L355.4,96.2 L354.1,95.4 L352.8,94.7 L351.5,94.0 L350.1,93.3 L348.7,92.7 L347.3,92.0 L345.9,91.4 L344.5,90.8 L343.1,90.2 L341.6,89.6 L340.2,89.1 L338.7,88.6 L337.2,88.1 L335.7,87.6 L334.2,87.2Z" fill="#141418" opacity="1" />
<defs><linearGradient id="wash" x1="0" y1="0" x2="0" y2="1"><stop offset="0" stop-color="#cdd1dc" stop-opacity="0"/><stop offset="1" stop-color="#cdd1dc" stop-opacity="0.85"/></linearGradient></defs>
<path d="M211.0,592.0 L211.0,591.7 L211.0,591.5 L211.0,591.2 L211.0,591.0 L211.0,590.7 L211.0,590.5 L211.0,590.2 L211.0,590.0 L211.0,589.7 L211.0,589.5 L211.0,589.2 L211.0,589.0 L211.0,588.7 L211.0,588.5 L211.0,588.2 L211.0,588.0 L211.0,587.7 L211.0,587.5 L211.0,587.2 L211.0,587.0 L211.0,586.7 L211.0,586.5 L211.0,586.2 L211.0,586.0 L210.9,585.7 L210.9,585.5 L210.9,585.2 L210.9,585.0 L210.9,584.7 L210.9,584.5 L210.9,584.2 L210.9,584.0 L210.9,583.7 L210.9,583.5 L210.9,583.2 L210.9,583.0 L210.9,582.7 L210.9,582.4 L210.9,582.2 L210.9,581.9 L210.9,581.7 L210.9,581.4 L210.9,581.2 L210.9,580.9 L210.9,580.7 L210.9,580.4 L210.9,580.2 L210.9,579.9 L210.9,579.7 L210.9,579.4 L210.9,579.2 L210.9,578.9 L210.9,578.7 L210.9,578.4 L210.9,578.2 L210.9,577.9 L210.9,577.7 L210.9,577.4 L210.9,577.2 L210.9,576.9 L210.9,576.7 L210.9,576.4 L210.9,576.2 L210.9,575.9 L210.9,575.7 L210.9,575.4 L210.9,575.2 L210.9,574.9 L210.9,574.7 L210.9,574.4 L210.9,574.2 L210.9,573.9 L210.9,573.7 L210.9,573.4 L210.8,573.1 L210.8,572.9 L210.8,572.6 L210.8,572.4 L210.8,572.1 L210.8,571.9 L210.8,571.6 L210.8,571.4 L210.8,571.1 L210.8,570.9 L210.8,570.6 L210.8,570.4 L210.8,570.1 L210.8,569.9 L210.8,569.6 L210.8,569.4 L210.8,569.1 L210.8,568.9 L210.8,568.6 L210.8,568.4 L210.8,568.1 L210.8,567.9 L210.8,567.6 L210.8,567.4 L210.8,567.1 L210.8,566.9 L210.8,566.6 L210.8,566.4 L210.8,566.1 L210.8,565.9 L210.8,565.6 L210.8,565.4 L210.8,565.1 L210.8,564.9 L210.8,564.6 L210.8,564.4 L210.8,564.1 L210.8,563.9 L210.8,563.6 L210.8,563.3 L210.8,563.1 L210.8,562.8 L210.8,562.6 L210.8,562.3 L210.8,562.1 L210.8,561.8 L210.8,561.6 L210.8,561.3 L210.8,561.1 L210.8,560.8 L210.8,560.6 L210.7,560.3 L210.7,560.1 L210.7,559.8 L210.7,559.6 L210.7,559.3 L210.7,559.1 L210.7,558.8 L210.7,558.6 L210.7,558.3 L210.7,558.1 L210.7,557.8 L210.7,557.6 L210.7,557.3 L210.7,557.1 L210.7,556.8 L210.7,556.6 L210.7,556.3 L210.7,556.1 L210.7,555.8 L210.7,555.6 L210.7,555.3 L210.7,555.1 L210.7,554.8 L210.7,554.6 L210.7,554.3 L210.7,554.0 L210.7,553.8 L210.7,553.5 L210.7,553.3 L210.7,553.0 L210.7,552.8 L210.7,552.5 L210.7,552.3 L210.7,552.0 L210.7,551.8 L210.7,551.5 L210.7,551.3 L210.7,551.0 L210.7,550.8 L210.7,550.5 L210.7,550.3 L210.7,550.0 L210.7,549.8 L210.7,549.5 L210.7,549.3 L210.7,549.0 L210.7,548.8 L210.7,548.5 L210.7,548.3 L210.7,548.0 L210.6,547.8 L210.6,547.5 L210.6,547.3 L210.6,547.0 L210.6,546.8 L210.6,546.5 L210.6,546.3 L210.6,546.0 L210.6,545.8 L210.6,545.5 L210.6,545.3 L210.6,545.0 L210.6,544.7 L210.6,544.5 L210.6,544.2 L210.6,544.0 L210.6,543.7 L210.6,543.5 L210.6,543.2 L210.6,543.0 L210.6,542.7 L210.6,542.5 L210.6,542.2 L210.6,542.0 L210.6,541.7 L210.6,541.5 L210.6,541.2 L210.6,541.0 L210.6,540.7 L210.6,540.5 L210.6,540.2 L210.6,540.0 L210.6,539.7 L210.6,539.5 L210.6,539.2 L210.6,539.0 L210.6,538.7 L210.6,538.5 L210.6,538.2 L210.6,538.0 L210.6,537.7 L210.6,537.5 L210.6,537.2 L210.6,537.0 L210.6,536.7 L210.6,536.5 L210.6,536.2 L210.6,536.0 L210.6,535.7 L210.6,535.5 L210.5,535.2 L210.5,534.9 L210.5,534.7 L210.5,534.4 L210.5,534.2 L210.5,533.9 L210.5,533.7 L210.5,533.4 L210.5,533.2 L210.5,532.9 L210.5,532.7 L210.5,532.4 L210.5,532.2 L210.5,531.9 L210.5,531.7 L210.5,531.4 L210.5,531.2 L210.5,530.9 L210.5,530.7 L210.5,530.4 L210.5,530.2 L210.5,529.9 L210.5,529.7 L210.5,529.4 L210.5,529.2 L210.5,528.9 L210.5,528.7 L210.5,528.4 L210.5,528.2 L210.5,527.9 L210.5,527.7 L210.5,527.4 L210.5,527.2 L210.5,526.9 L210.5,526.7 L210.5,526.4 L210.5,526.2 L210.5,525.9 L210.5,525.6 L210.5,525.4 L210.5,525.1 L210.5,524.9 L210.5,524.6 L210.5,524.4 L210.5,524.1 L210.5,523.9 L210.5,523.6 L210.5,523.4 L210.5,523.1 L210.4,522.9 L210.4,522.6 L210.4,522.4 L210.4,522.1 L210.4,521.9 L210.4,521.6 L210.4,521.4 L210.4,521.1 L210.4,520.9 L210.4,520.6 L210.4,520.4 L210.4,520.1 L210.4,519.9 L210.4,519.6 L210.4,519.4 L210.4,519.1 L210.4,518.9 L210.4,518.6 L210.4,518.4 L210.4,518.1 L210.4,517.9 L210.4,517.6 L210.4,517.4 L210.4,517.1 L210.4,516.9 L210.4,516.6 L270.8,508.0 L270.8,508.3 L270.8,508.6 L270.8,508.8 L270.8,509.1 L270.8,509.4 L270.8,509.7 L270.8,510.0 L270.8,510.2 L270.8,510.5 L270.8,510.8 L270.8,511.1 L270.8,511.4 L270.9,511.6 L270.9,511.9 L270.9,512.2 L270.9,512.5 L270.9,512.8 L270.9,513.0 L270.9,513.3 L270.9,513.6 L270.9,513.9 L270.9,514.2 L270.9,514.4 L270.9,514.7 L270.9,515.0 L270.9,515.3 L270.9,515.6 L270.9,515.8 L270.9,516.1 L270.9,516.4 L270.9,516.7 L270.9,517.0 L270.9,517.2 L270.9,517.5 L270.9,517.8 L270.9,518.1 L270.9,518.4 L271.0,518.6 L271.0,518.9 L271.0,519.2 L271.0,519.5 L271.0,519.8 L271.0,520.0 L271.0,520.3 L271.0,520.6 L271.0,520.9 L271.0,521.2 L271.0,521.4 L271.0,521.7 L271.0,522.0 L271.0,522.3 L271.0,522.6 L271.0,522.8 L271.0,523.1 L271.0,523.4 L271.0,523.7 L271.0,524.0 L271.0,524.2 L271.0,524.5 L271.0,524.8 L271.0,525.1 L271.0,525.4 L271.1,525.6 L271.1,525.9 L271.1,526.2 L271.1,526.5 L271.1,526.8 L271.1,527.0 L271.1,527.3 L271.1,527.6 L271.1,527.9 L271.1,528.2 L271.1,528.4 L271.1,528.7 L271.1,529.0 L271.1,529.3 L271.1,529.6 L271.1,529.8 L271.1,530.1 L271.1,530.4 L271.1,530.7 L271.1,531.0 L271.1,531.2 L271.1,531.5 L271.1,531.8 L271.1,532.1 L271.1,532.4 L271.2,532.6 L271.2,532.9 L271.2,533.2 L271.2,533.5 L271.2,533.8 L271.2,534.0 L271.2,534.3 L271.2,534.6 L271.2,534.9 L271.2,535.2 L271.2,535.4 L271.2,535.7 L271.2,536.0 L271.2,536.3 L271.2,536.6 L271.2,536.8 L271.2,537.1 L271.2,537.4 L271.2,537.7 L271.2,538.0 L271.2,538.2 L271.2,538.5 L271.2,538.8 L271.2,539.1 L271.2,539.4 L271.3,539.6 L271.3,539.9 L271.3,540.2 L271.3,540.5 L271.3,540.8 L271.3,541.0 L271.3,541.3 L271.3,541.6 L271.3,541.9 L271.3,542.2 L271.3,542.4 L271.3,542.7 L271.3,543.0 L271.3,543.3 L271.3,543.6 L271.3,543.8 L271.3,544.1 L271.3,544.4 L271.3,544.7 L271.3,545.0 L271.3,545.2 L271.3,545.5 L271.3,545.8 L271.3,546.1 L271.3,546.4 L271.4,546.6 L271.4,546.9 L271.4,547.2 L271.4,547.5 L271.4,547.8 L271.4,548.0 L271.4,548.3 L271.4,548.6 L271.4,548.9 L271.4,549.2 L271.4,549.4 L271.4,549.7 L271.4,550.0 L271.4,550.3 L271.4,550.6 L271.4,550.8 L271.4,551.1 L271.4,551.4 L271.4,551.7 L271.4,552.0 L271.4,552.2 L271.4,552.5 L271.4,552.8 L271.4,553.1 L271.4,553.4 L271.5,553.6 L271.5,553.9 L271.5,554.2 L271.5,554.5 L271.5,554.8 L271.5,555.0 L271.5,555.3 L271.5,555.6 L271.5,555.9 L271.5,556.2 L271.5,556.4 L271.5,556.7 L271.5,557.0 L271.5,557.3 L271.5,557.6 L271.5,557.8 L271.5,558.1 L271.5,558.4 L271.5,558.7 L271.5,559.0 L271.5,559.2 L271.5,559.5 L271.5,559.8 L271.5,560.1 L271.5,560.4 L271.6,560.6 L271.6,560.9 L271.6,561.2 L271.6,561.5 L271.6,561.8 L271.6,562.0 L271.6,562.3 L271.6,562.6 L271.6,562.9 L271.6,563.2 L271.6,563.4 L271.6,563.7 L271.6,564.0 L271.6,564.3 L271.6,564.6 L271.6,564.8 L271.6,565.1 L271.6,565.4 L271.6,565.7 L271.6,566.0 L271.6,566.2 L271.6,566.5 L271.6,566.8 L271.6,567.1 L271.6,567.4 L271.7,567.6 L271.7,567.9 L271.7,568.2 L271.7,568.5 L271.7,568.8 L271.7,569.0 L271.7,569.3 L271.7,569.6 L271.7,569.9 L271.7,570.2 L271.7,570.4 L271.7,570.7 L271.7,571.0 L271.7,571.3 L271.7,571.6 L271.7,571.8 L271.7,572.1 L271.7,572.4 L271.7,572.7 L271.7,573.0 L271.7,573.2 L271.7,573.5 L271.7,573.8 L271.7,574.1 L271.7,574.4 L271.8,574.6 L271.8,574.9 L271.8,575.2 L271.8,575.5 L271.8,575.8 L271.8,576.0 L271.8,576.3 L271.8,576.6 L271.8,576.9 L271.8,577.2 L271.8,577.4 L271.8,577.7 L271.8,578.0 L271.8,578.3 L271.8,578.6 L271.8,578.8 L271.8,579.1 L271.8,579.4 L271.8,579.7 L271.8,580.0 L271.8,580.2 L271.8,580.5 L271.8,580.8 L271.8,581.1 L271.8,581.4 L271.9,581.6 L271.9,581.9 L271.9,582.2 L271.9,582.5 L271.9,582.8 L271.9,583.0 L271.9,583.3 L271.9,583.6 L271.9,583.9 L271.9,584.2 L271.9,584.4 L271.9,584.7 L271.9,585.0 L271.9,585.3 L271.9,585.6 L271.9,585.8 L271.9,586.1 L271.9,586.4 L271.9,586.7 L271.9,587.0 L271.9,587.2 L271.9,587.5 L271.9,587.8 L271.9,588.1 L271.9,588.4 L272.0,588.6 L272.0,588.9 L272.0,589.2 L272.0,589.5 L272.0,589.8 L272.0,590.0 L272.0,590.3 L272.0,590.6 L272.0,590.9 L272.0,591.2 L272.0,591.4 L272.0,591.7 L272.0,592.0Z" fill="url(#wash)" opacity="1" />
<path d="M211.0,592.0 L211.0,586.3 L210.9,580.7 L210.9,575.0 L210.8,569.4 L210.8,563.7 L210.7,558.1 L210.7,552.4 L210.6,546.8 L210.6,541.1 L210.6,535.5 L210.5,529.8 L210.5,524.1 L210.4,518.5 L210.4,512.8 L210.3,507.2 L210.3,501.5 L210.2,495.9 L210.2,490.2 L210.1,484.6 L210.1,478.9 L210.1,473.2 L210.0,467.6 L210.0,461.9 L209.9,456.3 L209.9,450.6 L209.8,445.0 L209.8,439.3 L209.7,433.7 L209.7,428.0 L209.7,422.4 L209.6,416.7 L209.6,411.0 L209.5,405.4 L209.5,399.7 L209.4,394.1 L209.4,388.4 L209.3,382.8 L209.3,377.1 L209.2,371.5 L209.2,365.8 L209.2,360.1 L209.1,354.5 L209.1,348.8 L209.0,343.2 L209.0,337.5 L208.9,331.9 L208.9,326.2 L208.8,320.6 L208.8,314.9 L208.8,309.2 L208.7,303.6 L208.7,297.9 L208.6,292.3 L208.6,286.6 L208.5,281.0 L208.5,275.3 L208.4,269.7 L208.4,264.0 L208.3,258.4 L208.3,252.7 L208.3,247.0 L208.2,241.4 L208.2,235.7 L208.1,230.1 L208.1,224.4 L208.0,218.8 L208.0,212.7 L208.2,205.9 L208.7,199.1 L209.5,192.3 L210.5,185.6 L211.8,178.9 L213.3,172.4 L215.1,165.9 L217.1,159.5 L219.4,153.3 L221.9,147.2 L224.6,141.2 L227.6,135.4 L230.8,129.8 L234.2,124.3 L237.9,119.1 L241.7,114.1 L245.7,109.3 L249.9,104.7 L254.3,100.4 L258.8,96.4 L263.5,92.6 L268.3,89.0 L273.2,85.8 L278.3,82.8 L283.5,80.2 L288.8,77.8 L294.2,75.8 L299.6,74.0 L305.1,72.6 L310.7,71.4 L316.3,70.6 L321.9,70.2 L327.5,70.0 L333.1,70.2 L338.7,70.6 L344.3,71.4 L349.9,72.6 L355.4,74.0 L360.8,75.8 L366.2,77.8 L371.5,80.2 L376.7,82.8 L381.8,85.8 L386.7,89.0 L391.5,92.6 L396.2,96.4 L400.7,100.4 L405.1,104.7 L409.3,109.3 L413.3,114.1 L417.1,119.1 L420.8,124.3 L424.2,129.8 L427.4,135.4 L430.4,141.2 L433.1,147.2 L435.6,153.3 L437.9,159.5 L439.9,165.9 L441.7,172.4 L443.2,178.9 L444.5,185.6 L445.5,192.3 L446.3,199.1 L446.8,205.9 L447.0,212.7 L447.0,218.8 L446.9,224.4 L446.9,230.1 L446.9,235.7 L446.8,241.4 L446.8,247.0 L446.8,252.7 L446.7,258.4 L446.7,264.0 L446.6,269.7 L446.6,275.3 L446.6,281.0 L446.5,286.6 L446.5,292.3 L446.4,297.9 L446.4,303.6 L446.4,309.2 L446.3,314.9 L446.3,320.6 L446.3,326.2 L446.2,331.9 L446.2,337.5 L446.1,343.2 L446.1,348.8 L446.1,354.5 L446.0,360.1 L446.0,365.8 L446.0,371.5 L445.9,377.1 L445.9,382.8 L445.9,388.4 L445.8,394.1 L445.8,399.7 L445.7,405.4 L445.7,411.0 L445.7,416.7 L445.6,422.3 L445.6,428.0 L445.6,433.7 L445.5,439.3 L445.5,445.0 L445.4,450.6 L445.4,456.3 L445.4,461.9 L445.3,467.6 L445.3,473.2 L445.2,478.9 L445.2,484.6 L445.2,490.2 L445.1,495.9 L445.1,501.5 L445.1,507.2 L445.0,512.8 L445.0,518.5 L444.9,524.1 L444.9,529.8 L444.9,535.4 L444.8,541.1 L444.8,546.8 L444.8,552.4 L444.7,558.1 L444.7,563.7 L444.6,569.4 L444.6,575.0 L444.6,580.7 L444.5,586.3 L444.5,592.0" fill="none" stroke="#80848e" stroke-width="2.0" opacity="1"/>
<path d="M208.9,328.1 L208.9,326.0 L208.9,323.8 L208.8,321.7 L208.8,319.6 L208.8,317.4 L208.8,315.3 L208.8,313.1 L208.8,311.0 L208.7,308.9 L208.7,306.7 L208.7,304.6 L208.7,302.5 L208.7,300.3 L208.7,298.2 L208.6,296.1 L208.6,293.9 L208.6,291.8 L208.6,289.6 L208.6,287.5 L208.6,285.4 L208.5,283.2 L208.5,281.1 L208.5,279.0 L208.5,276.8 L208.5,274.7 L208.5,272.6 L208.4,270.4 L208.4,268.3 L208.4,266.1 L208.4,264.0 L208.4,261.9 L208.4,259.7 L208.3,257.6 L208.3,255.5 L208.3,253.3 L208.3,251.2 L208.3,249.1 L208.3,246.9 L208.2,244.8 L208.2,242.6 L208.2,240.5 L208.2,238.4 L208.2,236.2 L208.2,234.1 L208.1,232.0 L208.1,229.8 L208.1,227.7 L208.1,225.6 L208.1,223.4 L208.1,221.3 L208.0,219.1 L208.0,217.0 L208.0,214.8 L208.0,212.3 L208.1,209.7 L208.2,207.1 L208.3,204.5 L208.5,202.0 L208.7,199.4 L208.9,196.8 L209.2,194.3 L209.6,191.7 L209.9,189.2 L210.3,186.6 L210.7,184.1 L211.2,181.6 L211.7,179.1 L212.3,176.6 L212.9,174.1 L213.5,171.6 L214.1,169.2 L214.8,166.7 L215.5,164.3 L216.3,161.9 L217.1,159.5 L217.9,157.1 L218.8,154.8 L219.7,152.4 L220.6,150.1 L221.6,147.8 L222.6,145.5 L223.6,143.3 L224.7,141.1 L225.8,138.8 L226.9,136.7 L228.1,134.5 L229.3,132.4 L230.5,130.3 L231.8,128.2 L233.1,126.1 L234.4,124.1 L235.7,122.1 L237.1,120.1 L238.5,118.2 L240.0,116.3 L241.4,114.4 L242.9,112.6 L244.4,110.8 L246.0,109.0 L247.5,107.2 L249.1,105.5 L250.8,103.9 L252.4,102.2 L254.1,100.6 L255.7,99.0 L257.5,97.5 L259.2,96.0 L261.0,94.6 L262.7,93.1 L264.5,91.8 L266.3,90.4 L268.2,89.1 L270.0,87.9 L271.9,86.6 L273.8,85.5 L275.7,84.3 L277.6,83.2 L279.6,82.2 L281.5,81.2 L283.5,80.2 L285.5,79.3 L287.5,78.4 L289.5,77.5 L291.5,76.7 L293.6,76.0 L295.6,75.3 L297.7,74.6 L299.7,74.0 L301.8,73.4 L303.9,72.9 L306.0,72.4 L308.1,71.9 L310.2,71.5 L312.3,71.2 L314.4,70.9 L316.5,70.6 L318.6,70.4 L320.7,70.2 L322.9,70.1 L325.0,70.0 L327.1,70.0 L329.3,70.0 L331.4,70.1 L333.5,70.2 L335.6,70.3 L337.7,70.5 L339.9,70.8 L342.0,71.1 L344.1,71.4 L346.2,71.8 L348.3,72.2 L350.4,72.7 L352.5,73.2 L354.5,73.8 L356.6,74.4 L358.7,75.0 L360.7,75.7 L362.8,76.5 L364.8,77.2 L366.8,78.1 L368.8,78.9 L370.8,79.8 L372.8,80.8 L374.7,81.8 L376.7,82.8 L378.6,83.9 L380.5,85.1 L382.4,86.2 L384.3,87.4 L386.2,88.7 L388.0,90.0 L389.8,91.3 L391.6,92.7 L393.4,94.1 L395.2,95.5 L396.9,97.0 L398.6,98.5 L400.3,100.1 L402.0,101.6 L403.7,103.3 L405.3,104.9 L406.9,106.6 L408.5,108.4 L410.0,110.1 L411.6,111.9 L413.1,113.8 L414.5,115.6 L416.0,117.5 L417.4,119.5 L418.8,121.4 L420.1,123.4 L421.5,125.4 L422.8,127.5 L424.0,129.5 L425.3,131.6 L426.5,133.7 L427.7,135.9 L428.8,138.1 L429.9,140.3 L431.0,142.5 L432.0,144.7 L433.1,147.0 L434.0,149.3 L435.0,151.6 L435.9,153.9 L436.8,156.3 L437.6,158.7 L438.4,161.1 L439.2,163.5 L439.9,165.9 L440.6,168.3 L441.3,170.8 L441.9,173.2 L442.5,175.7 L443.1,178.2 L443.6,180.7 L444.1,183.2 L444.5,185.7 L445.0,188.3 L445.3,190.8 L445.7,193.4 L446.0,195.9 L446.2,198.5 L446.4,201.1 L446.6,203.6 L446.8,206.2 L446.9,208.8 L447.0,211.4 L447.0,213.9 L447.0,216.3 L447.0,218.4 L447.0,220.5 L446.9,222.7 L446.9,224.8 L446.9,226.9 L446.9,229.1 L446.9,231.2 L446.9,233.3 L446.9,235.5 L446.9,237.6 L446.8,239.8 L446.8,241.9 L446.8,244.0 L446.8,246.2 L446.8,248.3 L446.8,250.4 L446.8,252.6 L446.7,254.7 L446.7,256.8 L446.7,259.0 L446.7,261.1 L446.7,263.3 L446.7,265.4 L446.7,267.5 L446.6,269.7 L446.6,271.8 L446.6,273.9 L446.6,276.1 L446.6,278.2 L446.6,280.3 L446.6,282.5 L446.5,284.6 L446.5,286.8 L446.5,288.9 L446.5,291.0 L446.5,293.2 L446.5,295.3 L446.5,297.4 L446.4,299.6 L446.4,301.7 L446.4,303.8 L446.4,306.0 L446.4,308.1 L446.4,310.3 L446.4,312.4 L446.3,314.5 L446.3,316.7 L446.3,318.8 L446.3,320.9 L446.3,323.1 L446.3,325.2 L446.3,327.3 L446.2,329.5 L446.2,331.6 L446.2,333.8 L446.2,335.9 L446.2,338.0 L446.2,340.2 L446.2,342.3 L446.1,344.4 L446.1,346.6 L446.1,348.7 L446.1,350.8 L446.1,353.0 L446.1,355.1 L446.1,357.3 L446.0,359.4 L446.0,361.5 L446.0,363.7 L446.0,365.8 L446.0,365.8 L446.0,363.6 L446.0,361.5 L446.0,359.3 L445.9,357.2 L445.9,355.0 L445.9,352.9 L445.9,350.7 L445.9,348.6 L445.8,346.4 L445.8,344.3 L445.8,342.1 L445.8,340.0 L445.8,337.8 L445.8,335.7 L445.7,333.5 L445.7,331.3 L445.7,329.2 L445.7,327.0 L445.7,324.9 L445.7,322.7 L445.6,320.6 L445.6,318.4 L445.6,316.3 L445.6,314.1 L445.6,311.9 L445.6,309.8 L445.5,307.6 L445.5,305.5 L445.5,303.3 L445.5,301.1 L445.5,299.0 L445.5,296.8 L445.4,294.7 L445.4,292.5 L445.4,290.3 L445.4,288.2 L445.4,286.0 L445.4,283.9 L445.3,281.7 L445.3,279.5 L445.3,277.4 L445.3,275.2 L445.3,273.1 L445.2,270.9 L445.2,268.7 L445.2,266.6 L445.2,264.4 L445.2,262.2 L445.2,260.1 L445.1,257.9 L445.1,255.7 L445.1,253.6 L445.1,251.4 L445.1,249.2 L445.0,247.1 L445.0,244.9 L445.0,242.7 L445.0,240.6 L445.0,238.4 L445.0,236.2 L444.9,234.1 L444.9,231.9 L444.9,229.7 L444.9,227.6 L444.9,225.4 L444.8,223.2 L444.8,221.1 L444.8,218.9 L444.8,216.7 L444.8,214.6 L444.8,212.2 L444.7,209.7 L444.6,207.2 L444.5,204.7 L444.3,202.2 L444.1,199.6 L443.9,197.1 L443.6,194.6 L443.3,192.2 L443.0,189.7 L442.6,187.2 L442.2,184.7 L441.7,182.3 L441.2,179.8 L440.7,177.4 L440.1,175.0 L439.5,172.6 L438.9,170.2 L438.2,167.8 L437.5,165.4 L436.8,163.1 L436.0,160.7 L435.2,158.4 L434.4,156.1 L433.5,153.8 L432.6,151.6 L431.7,149.3 L430.7,147.1 L429.7,144.9 L428.7,142.7 L427.6,140.6 L426.5,138.5 L425.4,136.4 L424.2,134.3 L423.0,132.2 L421.8,130.2 L420.5,128.2 L419.3,126.2 L418.0,124.3 L416.7,122.3 L415.3,120.5 L413.9,118.6 L412.5,116.8 L411.1,114.9 L409.6,113.2 L408.1,111.4 L406.6,109.7 L405.1,108.0 L403.5,106.4 L402.0,104.8 L400.3,103.2 L398.7,101.7 L397.1,100.2 L395.4,98.7 L393.7,97.2 L392.0,95.8 L390.2,94.5 L388.5,93.2 L386.7,91.9 L384.9,90.6 L383.1,89.4 L381.2,88.2 L379.4,87.1 L377.5,86.0 L375.6,84.9 L373.7,83.9 L371.8,83.0 L369.9,82.0 L367.9,81.1 L366.0,80.3 L364.0,79.5 L362.0,78.7 L360.0,78.0 L358.0,77.3 L356.0,76.7 L354.0,76.1 L352.0,75.5 L349.9,75.0 L347.9,74.6 L345.8,74.2 L343.8,73.8 L341.7,73.5 L339.6,73.2 L337.6,72.9 L335.5,72.7 L333.4,72.6 L331.3,72.5 L329.3,72.4 L327.2,72.4 L325.1,72.4 L323.0,72.5 L320.9,72.6 L318.9,72.8 L316.8,73.0 L314.7,73.2 L312.6,73.5 L310.6,73.8 L308.5,74.2 L306.5,74.6 L304.4,75.1 L302.4,75.6 L300.3,76.2 L298.3,76.8 L296.3,77.4 L294.3,78.1 L292.3,78.8 L290.3,79.6 L288.4,80.4 L286.4,81.3 L284.5,82.2 L282.5,83.1 L280.6,84.1 L278.7,85.1 L276.8,86.2 L274.9,87.3 L273.1,88.4 L271.2,89.6 L269.4,90.8 L267.6,92.1 L265.8,93.4 L264.1,94.7 L262.3,96.1 L260.6,97.5 L258.9,99.0 L257.2,100.4 L255.6,102.0 L253.9,103.5 L252.3,105.1 L250.7,106.7 L249.1,108.4 L247.6,110.1 L246.1,111.8 L244.6,113.6 L243.1,115.4 L241.7,117.2 L240.3,119.1 L238.9,120.9 L237.6,122.9 L236.2,124.8 L234.9,126.8 L233.7,128.8 L232.4,130.8 L231.2,132.8 L230.0,134.9 L228.9,137.0 L227.8,139.1 L226.7,141.3 L225.6,143.5 L224.6,145.7 L223.6,147.9 L222.6,150.1 L221.7,152.4 L220.8,154.7 L220.0,157.0 L219.1,159.3 L218.4,161.6 L217.6,164.0 L216.9,166.3 L216.2,168.7 L215.5,171.1 L214.9,173.5 L214.3,175.9 L213.8,178.4 L213.3,180.8 L212.8,183.3 L212.4,185.8 L212.0,188.2 L211.6,190.7 L211.3,193.2 L211.0,195.7 L210.8,198.2 L210.5,200.7 L210.4,203.2 L210.2,205.8 L210.1,208.3 L210.1,210.8 L210.0,213.3 L210.0,215.5 L210.0,217.7 L210.0,219.9 L209.9,222.1 L209.9,224.2 L209.9,226.4 L209.9,228.6 L209.9,230.7 L209.8,232.9 L209.8,235.1 L209.8,237.3 L209.8,239.4 L209.8,241.6 L209.7,243.8 L209.7,245.9 L209.7,248.1 L209.7,250.3 L209.7,252.4 L209.6,254.6 L209.6,256.8 L209.6,258.9 L209.6,261.1 L209.5,263.3 L209.5,265.4 L209.5,267.6 L209.5,269.8 L209.5,271.9 L209.4,274.1 L209.4,276.3 L209.4,278.4 L209.4,280.6 L209.4,282.7 L209.3,284.9 L209.3,287.1 L209.3,289.2 L209.3,291.4 L209.2,293.6 L209.2,295.7 L209.2,297.9 L209.2,300.0 L209.2,302.2 L209.1,304.4 L209.1,306.5 L209.1,308.7 L209.1,310.8 L209.1,313.0 L209.0,315.2 L209.0,317.3 L209.0,319.5 L209.0,321.6 L208.9,323.8 L208.9,325.9 L208.9,328.1Z" fill="#2f3540" opacity="1" />
<path d="M266.9,235.0 L266.6,232.1 L266.4,229.2 L266.1,226.4 L265.9,223.5 L265.6,220.6 L265.4,217.8 L265.1,214.9 L264.9,212.0 L264.6,209.2 L264.4,206.3 L264.1,203.5 L263.9,200.6 L263.6,197.8 L263.4,194.9 L263.1,192.1 L262.9,189.2 L262.6,186.4 L262.4,183.5 L262.1,180.7 L261.9,177.9 L261.6,175.1 L261.4,174.0 L261.3,172.9 L261.2,171.7 L261.1,170.6 L261.0,169.4 L261.0,168.2 L261.1,167.0 L261.3,165.7 L261.6,164.4 L261.9,163.1 L262.3,161.8 L262.7,160.6 L263.1,159.3 L263.6,158.0 L264.1,156.8 L264.6,155.6 L265.2,154.3 L265.8,153.1 L266.4,151.9 L267.0,150.7 L267.7,149.5 L268.4,148.4 L269.2,147.2 L270.0,146.1 L270.8,145.0 L271.6,143.8 L272.5,142.8 L273.4,141.7 L274.3,140.6 L275.2,139.6 L276.2,138.6 L277.2,137.6 L278.2,136.6 L279.3,135.6 L280.4,134.7 L281.5,133.8 L282.6,132.9 L283.8,132.0 L284.9,131.1 L286.1,130.3 L287.3,129.5 L288.6,128.7 L289.8,128.0 L291.1,127.2 L292.4,126.5 L293.7,125.8 L295.0,125.2 L296.4,124.6 L297.8,123.9 L299.1,123.4 L300.5,122.8 L301.9,122.3 L303.4,121.8 L304.8,121.3 L306.2,120.9 L307.7,120.5 L309.2,120.1 L310.6,119.7 L312.1,119.4 L313.6,119.1 L315.1,118.8 L316.6,118.6 L318.2,118.4 L319.7,118.2 L321.2,118.0 L322.7,117.9 L324.3,117.8 L325.8,117.7 L327.3,117.7 L328.9,117.7 L330.4,117.8 L331.9,117.8 L333.5,118.0 L335.0,118.1 L336.5,118.3 L338.0,118.5 L339.5,118.7 L341.0,119.0 L342.5,119.3 L344.0,119.6 L345.5,119.9 L346.9,120.3 L348.4,120.7 L349.8,121.1 L351.3,121.6 L352.7,122.0 L354.1,122.5 L355.5,123.1 L356.9,123.6 L358.2,124.2 L359.6,124.8 L360.9,125.5 L362.2,126.1 L363.5,126.8 L364.8,127.5 L366.0,128.2 L367.2,129.0 L368.4,129.8 L369.6,130.5 L370.8,131.4 L371.9,132.2 L373.1,133.1 L374.2,133.9 L375.2,134.8 L376.3,135.7 L377.3,136.7 L378.3,137.6 L379.3,138.6 L380.2,139.6 L381.1,140.6 L382.0,141.6 L382.9,142.6 L383.7,143.7 L384.5,144.7 L385.3,145.8 L386.0,146.9 L386.7,148.0 L387.4,149.1 L388.1,150.2 L388.7,151.4 L389.3,152.5 L389.8,153.7 L390.4,154.8 L390.9,156.0 L391.3,157.2 L391.8,158.3 L392.2,159.5 L392.5,160.7 L392.9,161.9 L393.2,163.1 L393.4,164.3 L393.7,165.5 L393.9,166.7 L394.0,168.0 L394.2,169.2 L394.3,170.4 L394.3,171.6 L394.4,172.8 L394.4,174.0 L394.4,176.2 L394.4,179.2 L394.4,182.2 L394.4,185.2 L394.4,188.2 L394.5,191.2 L394.5,194.1 L394.5,197.1 L394.5,200.1 L394.5,203.1 L394.5,206.1 L394.5,209.1 L394.6,212.1 L394.6,215.1 L394.6,218.1 L394.6,221.1 L394.6,224.1 L394.6,227.1 L394.7,230.1 L394.7,233.1 L394.7,236.1 L394.7,239.1 L394.7,242.1 L394.7,245.0 L394.8,248.0 L394.8,251.0 L394.8,254.0 L394.8,257.0 L394.8,260.0 L394.8,263.0 L394.9,266.0 L394.9,269.0 L394.9,272.0 L394.9,275.0 L394.9,278.0 L394.9,281.0 L395.0,284.0 L395.0,287.0 L395.0,289.9 L395.0,292.9 L395.0,295.9 L395.0,298.9 L395.1,301.9 L395.1,304.9 L395.1,307.9 L395.1,310.9 L395.1,313.9 L395.1,316.9 L395.2,319.9 L395.2,322.9 L395.2,325.9 L395.2,328.8 L395.2,331.8 L395.2,334.8 L395.2,337.8 L395.3,340.8 L395.3,343.8 L395.3,346.8 L395.3,349.8 L395.3,352.8 L395.3,355.8 L395.4,358.8 L395.4,361.8 L395.4,364.8 L395.4,367.7 L395.4,370.7 L395.4,373.7 L395.5,376.7 L395.5,379.7 L395.5,382.7 L395.5,385.7 L395.5,388.7 L395.5,391.7 L395.6,394.7 L395.6,397.7 L395.6,400.7 L395.6,403.6 L395.6,406.6 L395.6,409.6 L395.7,412.6 L395.7,415.6 L395.7,418.6 L395.7,421.6 L395.7,424.6 L395.7,427.6 L395.7,430.6 L395.8,433.6 L395.8,436.5 L395.8,439.5 L395.8,442.5 L395.8,445.5 L395.8,448.5 L395.9,451.5 L395.9,454.5 L395.9,457.5 L395.9,460.5 L395.9,463.5 L395.9,466.4 L396.0,469.4 L396.0,472.4 L396.0,475.4 L396.0,478.4 L396.0,481.4 L396.0,484.4 L396.1,487.4 L396.1,490.4 L396.1,493.4 L396.1,496.3 L396.1,499.3 L396.1,502.3 L396.1,505.3 L396.2,508.3 L396.2,511.3 L396.2,514.3 L396.2,517.3 L396.2,520.3 L396.2,523.3 L396.3,526.2 L396.3,529.2 L396.3,532.2 L396.3,535.2 L396.3,538.2 L396.3,541.2 L396.4,544.2 L396.4,547.2 L396.4,550.2 L396.4,553.1 L396.4,556.1 L396.4,559.1 L396.4,562.1 L396.5,565.1 L396.5,568.1 L396.5,571.1 L396.5,574.1 L396.5,577.1 L396.5,580.0 L396.6,583.0 L396.6,586.0 L396.6,589.0 L396.6,592.0 L393.0,592.0 L393.0,589.0 L393.0,586.0 L393.0,583.0 L392.9,580.0 L392.9,577.0 L392.9,573.9 L392.9,570.9 L392.9,567.9 L392.9,564.9 L392.9,561.9 L392.8,558.9 L392.8,555.9 L392.8,552.9 L392.8,549.9 L392.8,546.9 L392.8,543.8 L392.8,540.8 L392.7,537.8 L392.7,534.8 L392.7,531.8 L392.7,528.8 L392.7,525.8 L392.7,522.8 L392.7,519.8 L392.6,516.8 L392.6,513.7 L392.6,510.7 L392.6,507.7 L392.6,504.7 L392.6,501.7 L392.6,498.7 L392.5,495.7 L392.5,492.7 L392.5,489.7 L392.5,486.6 L392.5,483.6 L392.5,480.6 L392.5,477.6 L392.4,474.6 L392.4,471.6 L392.4,468.6 L392.4,465.6 L392.4,462.6 L392.4,459.6 L392.4,456.5 L392.3,453.5 L392.3,450.5 L392.3,447.5 L392.3,444.5 L392.3,441.5 L392.3,438.5 L392.3,435.5 L392.2,432.5 L392.2,429.5 L392.2,426.5 L392.2,423.4 L392.2,420.4 L392.2,417.4 L392.2,414.4 L392.1,411.4 L392.1,408.4 L392.1,405.4 L392.1,402.4 L392.1,399.4 L392.1,396.4 L392.1,393.3 L392.0,390.3 L392.0,387.3 L392.0,384.3 L392.0,381.3 L392.0,378.3 L392.0,375.3 L392.0,372.3 L391.9,369.3 L391.9,366.2 L391.9,363.2 L391.9,360.2 L391.9,357.2 L391.9,354.2 L391.9,351.2 L391.8,348.2 L391.8,345.2 L391.8,342.2 L391.8,339.2 L391.8,336.1 L391.8,333.1 L391.8,330.1 L391.7,327.1 L391.7,324.1 L391.7,321.1 L391.7,318.1 L391.7,315.1 L391.7,312.1 L391.7,309.1 L391.6,306.1 L391.6,303.0 L391.6,300.0 L391.6,297.0 L391.6,294.0 L391.6,291.0 L391.6,288.0 L391.5,285.0 L391.5,282.0 L391.5,279.0 L391.5,276.0 L391.5,272.9 L391.5,269.9 L391.5,266.9 L391.4,263.9 L391.4,260.9 L391.4,257.9 L391.4,254.9 L391.4,251.9 L391.4,248.9 L391.4,245.8 L391.3,242.8 L391.3,239.8 L391.3,236.8 L391.3,233.8 L391.3,230.8 L391.3,227.8 L391.3,224.8 L391.2,221.8 L391.2,218.8 L391.2,215.7 L391.2,212.7 L391.2,209.7 L391.2,206.7 L391.2,203.7 L391.1,200.7 L391.1,197.7 L391.1,194.7 L391.1,191.7 L391.1,188.7 L391.1,185.7 L391.1,182.6 L391.0,179.6 L391.0,176.6 L391.0,173.6 L391.0,171.5 L391.0,170.4 L390.9,169.3 L390.8,168.2 L390.7,167.1 L390.5,166.0 L390.3,164.9 L390.1,163.8 L389.9,162.7 L389.6,161.6 L389.3,160.6 L388.9,159.5 L388.6,158.4 L388.1,157.4 L387.7,156.3 L387.2,155.3 L386.8,154.2 L386.2,153.2 L385.7,152.2 L385.1,151.2 L384.5,150.2 L383.8,149.2 L383.2,148.3 L382.5,147.3 L381.8,146.4 L381.0,145.4 L380.2,144.5 L379.4,143.6 L378.6,142.7 L377.7,141.8 L376.9,141.0 L376.0,140.1 L375.0,139.3 L374.1,138.5 L373.1,137.7 L372.1,136.9 L371.1,136.1 L370.1,135.4 L369.0,134.7 L367.9,134.0 L366.8,133.3 L365.7,132.6 L364.5,132.0 L363.4,131.3 L362.2,130.7 L361.0,130.2 L359.8,129.6 L358.6,129.0 L357.3,128.5 L356.1,128.0 L354.8,127.6 L353.5,127.1 L352.2,126.7 L350.9,126.3 L349.6,125.9 L348.3,125.5 L346.9,125.2 L345.6,124.9 L344.2,124.6 L342.9,124.3 L341.5,124.1 L340.1,123.9 L338.7,123.7 L337.3,123.5 L335.9,123.3 L334.5,123.2 L333.1,123.1 L331.7,123.1 L330.3,123.0 L328.9,123.0 L327.5,123.0 L326.1,123.0 L324.7,123.1 L323.3,123.2 L321.9,123.3 L320.5,123.4 L319.1,123.6 L317.7,123.7 L316.3,123.9 L315.0,124.2 L313.6,124.4 L312.2,124.7 L310.9,125.0 L309.5,125.3 L308.2,125.7 L306.9,126.0 L305.6,126.4 L304.3,126.8 L303.0,127.3 L301.7,127.7 L300.4,128.2 L299.2,128.7 L297.9,129.3 L296.7,129.8 L295.5,130.4 L294.3,131.0 L293.2,131.6 L292.0,132.2 L290.9,132.9 L289.8,133.6 L288.7,134.2 L287.6,135.0 L286.5,135.7 L285.5,136.4 L284.5,137.2 L283.5,138.0 L282.5,138.8 L281.6,139.6 L280.7,140.5 L279.8,141.3 L278.9,142.2 L278.1,143.1 L277.3,144.0 L276.5,144.9 L275.7,145.8 L275.0,146.7 L274.2,147.7 L273.6,148.6 L272.9,149.6 L272.3,150.6 L271.7,151.6 L271.1,152.6 L270.6,153.6 L270.0,154.7 L269.6,155.7 L269.1,156.7 L268.7,157.8 L268.3,158.8 L267.9,159.9 L267.6,161.0 L267.3,162.1 L267.0,163.1 L266.8,164.2 L266.6,165.3 L266.4,166.4 L266.3,167.5 L266.1,168.6 L266.1,169.7 L266.0,170.8 L266.0,171.9 L266.0,174.8 L266.1,177.8 L266.1,180.8 L266.2,183.8 L266.2,186.8 L266.3,189.8 L266.3,192.9 L266.3,195.9 L266.4,198.9 L266.4,201.9 L266.5,204.9 L266.5,207.9 L266.6,210.9 L266.6,213.9 L266.6,216.9 L266.7,219.9 L266.7,223.0 L266.8,226.0 L266.8,229.0 L266.9,232.0 L266.9,235.0Z" fill="#3a3c44" opacity="1" />
</g>
<defs><linearGradient id="fadeL" x1="0" y1="0" x2="0" y2="1"><stop offset="0" stop-color="#e4e7ef" stop-opacity="0"/><stop offset="0.35" stop-color="#e4e7ef" stop-opacity="1"/></linearGradient><linearGradient id="legH" x1="0" y1="0" x2="1" y2="0"><stop offset="0" stop-color="#cfd3dd"/><stop offset="0.25" stop-color="#eceef3"/><stop offset="0.5" stop-color="#bcc0cc"/><stop offset="0.75" stop-color="#e3e6ee"/><stop offset="1" stop-color="#a9aebb"/></linearGradient><linearGradient id="botG" x1="0" y1="0" x2="0" y2="1"><stop offset="0" stop-color="#ffffff" stop-opacity="0"/><stop offset="1" stop-color="#8b8f9c" stop-opacity="0.7"/></linearGradient><linearGradient id="pinG" x1="0" y1="0" x2="0" y2="1"><stop offset="0" stop-color="#f6f7fa"/><stop offset="0.3" stop-color="#e9eaf2"/><stop offset="0.6" stop-color="#cfd0e0"/><stop offset="0.85" stop-color="#eceef4"/><stop offset="1" stop-color="#f4f5f8"/></linearGradient><linearGradient id="headG" x1="0" y1="0" x2="1" y2="1"><stop offset="0" stop-color="#c9ccd6"/><stop offset="0.5" stop-color="#e9ebf1"/><stop offset="1" stop-color="#b8bcc8"/></linearGradient></defs>
<g filter="url(#soft)">
<defs><linearGradient id="mg" gradientUnits="userSpaceOnUse" x1="0" y1="568" x2="0" y2="598"><stop offset="0" stop-color="#000"/><stop offset="1" stop-color="#fff"/></linearGradient><mask id="eyeMask" maskUnits="userSpaceOnUse" x="0" y="0" width="1000" height="1000"><rect x="0" y="540" width="1000" height="200" fill="url(#mg)"/></mask></defs>
<path d="M211,560 C209,580 207,600 207.5,625 C208,650 213,672 234,685 C248,690 262,687 268,680 L272,610 L272,560 Z" fill="url(#legH)" mask="url(#eyeMask)"/>
<path d="M213,660 C216,676 226,684 240,686 C252,688 262,686 266,680 L266,660 Z" fill="#f4f5f8"/>
<path d="M232,603 C229,618 233,636 237,646 C241,640 243,614 242,602 C239,599 235,599 232,603 Z" fill="#22252b"/>
<path d="M250,592 C254,610 256,640 253,660 L262,660 L263,592 Z" fill="#a7acba" opacity="0.85"/>
<path d="M216,600 C214,620 216,640 219,655 L224,655 C222,640 221,620 222,600 Z" fill="#c3c7d3" opacity="0.9"/>
<path d="M211,560 C209,585 207,600 207.5,625 C208,640 210,652 212,660" fill="none" stroke="#7d818c" stroke-width="1.8"/>
<path d="M212,658 C215,674 226,684 238,686 C250,688 260,686 266,681" fill="none" stroke="#1e1f23" stroke-width="3"/>
<path d="M394.5,555 C393.5,575 388,592 385.5,615 C383,640 387,665 400,678 C412,688 430,686 440,680 L446,640 L446,555 Z" fill="url(#legH)" mask="url(#eyeMask)"/>
<path d="M392,650 C396,668 405,680 418,684 C428,686 436,684 440,679 L440,650 Z" fill="url(#botG)"/>
<path d="M409,598 C406,612 408,630 410,641 C415,636 416,612 415,597 C413,595 411,595 409,598 Z" fill="#22252b"/>
<path d="M428,585 C432,610 432,640 430,665 L440,665 L440,585 Z" fill="#f2f3f7"/>
<path d="M394.5,548 C393.5,570 388,592 385.5,615 L396,615 L396,548 Z" fill="#d9dce5" mask="url(#eyeMask)"/>
<path d="M394.5,548 C393.5,570 388,592 385.5,615 C383,640 387,665 400,678 C412,688 430,686 440,680" fill="none" stroke="#2b2c31" stroke-width="2.6"/>
<defs><linearGradient id="pinG2" x1="0" y1="0" x2="0" y2="1"><stop offset="0" stop-color="#f3f4f8"/><stop offset="0.2" stop-color="#f6f7fa"/><stop offset="0.3" stop-color="#d6d7e6"/><stop offset="0.5" stop-color="#c9cadc"/><stop offset="0.72" stop-color="#d3d4e3"/><stop offset="0.8" stop-color="#f4f5f8"/><stop offset="1" stop-color="#eef0f4"/></linearGradient></defs>
<rect x="283" y="596" width="102" height="57" fill="url(#pinG2)"/>
<rect x="283" y="595.5" width="102" height="5.5" fill="#56605c"/>
<rect x="283" y="651" width="102" height="3" fill="#222"/>
<path d="M300,621 L306.5,615 L313,621 L312,637 L301,637 Z" fill="none" stroke="#9fa0b2" stroke-width="2.2" opacity="0.8"/>
<circle cx="306.5" cy="627" r="3" fill="#aeafbf" opacity="0.8"/>
<text x="318" y="634" font-family="Liberation Sans" font-weight="bold" font-size="11.5" textLength="55" lengthAdjust="spacingAndGlyphs" fill="#9c9db0" opacity="0.85">WICHARD</text>
<path d="M265,593.5 L282,593.5 C285,595 285,598 283,601 L283,654 C285,656 285,658 282,659 L265,659 C262,640 262,613 265,593.5 Z" fill="#a3a8b4"/>
<path d="M270,598 C268.5,615 268.5,640 270,655 L275,655 C273.5,640 273.5,615 275,598 Z" fill="#e6e8ee"/>
<path d="M277,598 C276,615 276,640 277,655 L280.5,655 L280.5,598 Z" fill="#7a7f8a"/>
<path d="M265,593.5 L282,593.5 C285,595 285,598 283,601 M283,654 C285,656 285,658 282,659 L265,659 M265.5,593.5 C262,613 262,640 265.5,659" fill="none" stroke="#141414" stroke-width="3.4"/>
<path d="M385,598 L385,652" stroke="#2a2a2a" stroke-width="2"/>
<path d="M436,592 C444,584 450,584 454,588 L452,660 C448,664 442,664 438,660 Z" fill="#b4b8c4"/>
<path d="M436,590 C443,582 450,582 455,587 L449,596 C446,592 441,592 436,595 Z" fill="#2a2a2e"/>
<path d="M449,590 C447,615 447,640 449,664" fill="none" stroke="#1e1e22" stroke-width="2.6"/>
<path d="M452,586 C456,581 460,579 466.3,578.8 L504.8,578.8 L509,581.5 C513,590 517,600 518,606.8 C520,612 521.3,616 521.3,620 C519,640 515,652 511.4,661.8 L501.5,668.4 C485,668 470,667 456.4,664 C452,656 449.5,650 448.7,642 C448,625 449,600 452,586 Z" fill="#dfe2ea"/>
<path d="M456,592 C466,586 478,586 488,592 C476,598 470,606 466,618 C470,630 476,640 486,648 C474,652 462,650 456,642 C452,625 452,605 456,592 Z" fill="#b9bdc9" opacity="0.7"/>
<path d="M492,584 C505,586 512,600 514,620 C514,640 508,655 498,662 C510,650 512,630 510,615 C508,600 502,590 492,584 Z" fill="#f4f5f9"/>
<path d="M452,586 C456,581 460,579 466.3,578.8 L504.8,578.8 L509,581.5 C513,590 517,600 518,606.8 C520,612 521.3,616 521.3,620 C519,640 515,652 511.4,661.8 L501.5,668.4 C485,668 470,667 456.4,664" fill="none" stroke="#4a4d55" stroke-width="1.8"/>
<path d="M470,606 L490,604.6 C500,608 503,618 502,626 C500,636 492,642 481.7,641 L478.4,638.7 L467.4,617.8 Z" fill="#fff"/>
<path d="M490,604.6 C500,608 503,618 502,626 C500,636 492,642 481.7,641" fill="none" stroke="#202024" stroke-width="2.4"/>
<path d="M470,606 L467.4,617.8 L478.4,638.7" fill="none" stroke="#7d818c" stroke-width="1.6"/>
</g>
<line x1="118.0" y1="67.0" x2="325.0" y2="67.0" stroke="#1c1c1c" stroke-width="2.8"/>
<line x1="118.5" y1="85.0" x2="118.5" y2="675.0" stroke="#1c1c1c" stroke-width="2.8"/>
<line x1="117.0" y1="688.5" x2="256.0" y2="688.5" stroke="#1c1c1c" stroke-width="2.8"/>
<path transform="translate(118.5,68.5) rotate(-90.0)" d="M0,0 Q-15.5,-5.1 -31.0,-11.5 Q-28.5,-5.2 -26.0,0 Q-28.5,5.2 -31.0,11.5 Q-15.5,5.1 0,0 Z" fill="#111"/>
<path transform="translate(118.5,688.0) rotate(90.0)" d="M0,0 Q-15.5,-5.3 -31.0,-12.0 Q-28.5,-5.4 -26.0,0 Q-28.5,5.4 -31.0,12.0 Q-15.5,5.3 0,0 Z" fill="#111"/>
<line x1="60.0" y1="593.0" x2="270.0" y2="593.0" stroke="#1c1c1c" stroke-width="2.8"/>
<line x1="60.0" y1="659.0" x2="270.0" y2="659.0" stroke="#1c1c1c" stroke-width="2.8"/>
<path d="M55.2,595.6 Q61,611 66.8,625.4 Q55.2,614.5 43.6,625.4 Q49.4,611 55.2,595.6 Z" fill="#111"/>
<path d="M55.2,657 Q61,641 66.8,626.6 Q55.2,637.5 43.6,626.6 Q49.4,641 55.2,657 Z" fill="#111"/>
<line x1="55.2" y1="619.0" x2="55.2" y2="633.0" stroke="#8a8a8a" stroke-width="1.4"/>
<line x1="337.5" y1="140.0" x2="337.5" y2="580.0" stroke="#2a2a2a" stroke-width="2.8"/>
<path transform="translate(337.5,126.0) rotate(-90.0)" d="M0,0 Q-15.0,-5.5 -30.0,-12.5 Q-27.5,-5.6 -25.0,0 Q-27.5,5.6 -30.0,12.5 Q-15.0,5.5 0,0 Z" fill="#111"/>
<path transform="translate(337.5,597.0) rotate(90.0)" d="M0,0 Q-16.0,-5.1 -32.0,-11.7 Q-29.5,-5.3 -27.0,0 Q-29.5,5.3 -32.0,11.7 Q-16.0,5.1 0,0 Z" fill="#111"/>
<line x1="198.0" y1="622.0" x2="198.0" y2="836.0" stroke="#1c1c1c" stroke-width="2.8"/>
<line x1="524.0" y1="618.0" x2="524.0" y2="840.0" stroke="#1c1c1c" stroke-width="2.8"/>
<line x1="198.0" y1="834.4" x2="524.0" y2="834.4" stroke="#1c1c1c" stroke-width="2.8"/>
<path transform="translate(200.3,834.4) rotate(180.0)" d="M0,0 Q-14.5,-5.3 -29.0,-12.0 Q-26.5,-5.4 -24.0,0 Q-26.5,5.4 -29.0,12.0 Q-14.5,5.3 0,0 Z" fill="#111"/>
<path transform="translate(519.5,834.4) rotate(0.0)" d="M0,0 Q-14.5,-5.1 -29.0,-11.7 Q-26.5,-5.3 -24.0,0 Q-26.5,5.3 -29.0,11.7 Q-14.5,5.1 0,0 Z" fill="#111"/>
<line x1="264.5" y1="660.0" x2="264.5" y2="761.0" stroke="#1c1c1c" stroke-width="2.8"/>
<line x1="383.5" y1="618.0" x2="383.5" y2="761.0" stroke="#1c1c1c" stroke-width="2.8"/>
<line x1="447.0" y1="617.0" x2="447.0" y2="761.0" stroke="#1c1c1c" stroke-width="2.8"/>
<line x1="264.5" y1="761.0" x2="498.0" y2="761.0" stroke="#1c1c1c" stroke-width="2.8"/>
<path transform="translate(264.5,761.0) rotate(180.0)" d="M0,0 Q-15.5,-5.3 -31.0,-12.0 Q-28.5,-5.4 -26.0,0 Q-28.5,5.4 -31.0,12.0 Q-15.5,5.3 0,0 Z" fill="#111"/>
<path transform="translate(385.0,761.0) rotate(0.0)" d="M0,0 Q-15.5,-5.3 -31.0,-12.0 Q-28.5,-5.4 -26.0,0 Q-28.5,5.4 -31.0,12.0 Q-15.5,5.3 0,0 Z" fill="#111"/>
<path transform="translate(448.0,761.0) rotate(180.0)" d="M0,0 Q-15.5,-5.3 -31.0,-12.0 Q-28.5,-5.4 -26.0,0 Q-28.5,5.4 -31.0,12.0 Q-15.5,5.3 0,0 Z" fill="#111"/>
<path d="M699.5,508 C700,522 703,530 708,536 L726,538 C720,528 710,518 699.5,508 Z" fill="#e4e4e4"/>
<path d="M769.3,508 C769,522 766,530 761,536 L743,538 C749,528 759,518 769.3,508 Z" fill="#e4e4e4"/>
<path d="M700,512 C712,522 722,530 728,538 M769,512 C756,522 746,530 740,538" fill="none" stroke="#bdbdbd" stroke-width="1.6"/>
<circle cx="734.6" cy="599.5" r="62.5" fill="none" stroke="#d9d9d9" stroke-width="9"/>
<circle cx="734.6" cy="599.5" r="67" fill="none" stroke="#b8b8b8" stroke-width="1"/>
<circle cx="734.6" cy="599.5" r="58" fill="none" stroke="#a9a9a9" stroke-width="1"/>
<circle cx="734.6" cy="599.5" r="52.5" fill="none" stroke="#c8c8c8" stroke-width="1.2"/>
<path d="M712,564 C686,578 684,624 711,640 Z" fill="#ebebeb"/>
<path d="M757,564 C783,578 785,624 758,640 Z" fill="#ebebeb"/>
<path d="M712,564 C686,578 684,624 711,640" fill="none" stroke="#3a3a3a" stroke-width="1.8"/>
<path d="M757,564 C783,578 785,624 758,640" fill="none" stroke="#3a3a3a" stroke-width="1.8"/>
<line x1="711.5" y1="556" x2="711.5" y2="645" stroke="#888" stroke-width="1.6"/>
<line x1="754" y1="556" x2="754" y2="645" stroke="#555" stroke-width="1.4" stroke-dasharray="2 1.5"/>
<rect x="715" y="543" width="39" height="118" fill="#fff"/>
<line x1="715" y1="545" x2="715" y2="660" stroke="#bbb" stroke-width="2.5"/>
<line x1="753" y1="545" x2="753" y2="660" stroke="#bbb" stroke-width="2.5"/>
<path d="M683,582 C680,595 680,608 683,619 L691.5,619 C689.5,608 689.5,595 691.5,582 Z" fill="#111"/>
<path d="M786,582 C789,595 789,608 786,619 L777.5,619 C779.5,608 779.5,595 777.5,582 Z" fill="#111"/>
<rect x="769" y="594.5" width="6" height="12" rx="2" fill="#111"/>
<ellipse cx="724.2" cy="539.7" rx="4.5" ry="3" fill="#111"/>
<ellipse cx="743.5" cy="539.7" rx="4.5" ry="3" fill="#111"/>
<path d="M720.5,659 Q734,665 747,659" fill="none" stroke="#111" stroke-width="5"/>
<path d="M772.3,105 A37.9,38 0 0 0 696.5,105 L696.5,511.8 A45,45 0 0 1 682.5,544.5 A75.8,75.8 0 1 0 786.5,544.2 A45,45 0 0 1 772.3,511.4 Z" fill="none" stroke="#0d0d0d" stroke-width="6.2"/>
<rect x="690" y="216.5" width="90" height="6" fill="#fff"/>
<line x1="693.0" y1="219.5" x2="776.0" y2="219.5" stroke="#b0b0b0" stroke-width="2.6"/>
<line x1="608.0" y1="187.0" x2="690.0" y2="187.0" stroke="#1c1c1c" stroke-width="2.8"/>
<path transform="translate(693.8,187.0) rotate(0.0)" d="M0,0 Q-14.0,-5.3 -28.0,-12.0 Q-25.5,-5.4 -23.0,0 Q-25.5,5.4 -28.0,12.0 Q-14.0,5.3 0,0 Z" fill="#111"/>
<line x1="784.0" y1="187.0" x2="867.5" y2="187.0" stroke="#1c1c1c" stroke-width="2.8"/>
<path transform="translate(780.7,187.0) rotate(180.0)" d="M0,0 Q-14.0,-5.3 -28.0,-12.0 Q-25.5,-5.4 -23.0,0 Q-25.5,5.4 -28.0,12.0 Q-14.0,5.3 0,0 Z" fill="#111"/>
<line x1="651.4" y1="578.0" x2="651.4" y2="722.0" stroke="#1c1c1c" stroke-width="2.8"/>
<line x1="814.0" y1="578.0" x2="814.0" y2="722.0" stroke="#1c1c1c" stroke-width="2.8"/>
<line x1="652.0" y1="721.0" x2="812.0" y2="721.0" stroke="#1c1c1c" stroke-width="2.8"/>
<path transform="translate(652.0,721.0) rotate(180.0)" d="M0,0 Q-15.5,-5.0 -31.0,-11.4 Q-28.5,-5.1 -26.0,0 Q-28.5,5.1 -31.0,11.4 Q-15.5,5.0 0,0 Z" fill="#111"/>
<path transform="translate(812.0,721.0) rotate(0.0)" d="M0,0 Q-15.5,-5.0 -31.0,-11.4 Q-28.5,-5.1 -26.0,0 Q-28.5,5.1 -31.0,11.4 Q-15.5,5.0 0,0 Z" fill="#111"/>
<path d="M59.5,393.3 L64.3,366.8 L77.2,366.5 M62.3,380.6 L73.6,380.6" fill="none" stroke="#0a0a0a" stroke-width="6.5" stroke-linecap="round" stroke-linejoin="round"/>
<path d="M292.6,363.2 L309,336 L312.8,336 L314.4,362.6 M299.8,353.6 L313.6,353.6" fill="none" stroke="#0a0a0a" stroke-width="6.5" stroke-linecap="round" stroke-linejoin="round"/>
<path d="M25,618.5 C20,615 6,617 6,631 C6,644 16,644 22,642" fill="none" stroke="#0a0a0a" stroke-width="7" stroke-linecap="round" stroke-linejoin="round"/>
<path d="M316,810.5 C313,810.5 312.5,808 313,806 L318,781 C318.5,778.5 320,777.5 322.5,777.5 L329,777.5 C335,777.5 337.5,781 337,785.5 C336.5,789.5 334,792 331.5,793.5 C335,795 337.5,798 337,802 C336,808 331,810.5 325,810.5 Z" fill="#0a0a0a"/>
<ellipse cx="326" cy="787.3" rx="4.3" ry="4.2" transform="rotate(-25 326 787.3)" fill="#fff"/>
<ellipse cx="324.4" cy="800.8" rx="5.1" ry="4.6" transform="rotate(-25 324.4 800.8)" fill="#fff"/>
<path d="M407,800.2 L411.5,775 L423,775 M409.3,787.5 L420.5,787.5 M407,800.2 L419.5,800.2" fill="none" stroke="#0a0a0a" stroke-width="6.5" stroke-linecap="round" stroke-linejoin="round"/>
<path d="M370,868 C350,864 349,885 352,889 C356,894 366,893 368,887 L370,879 L364,879" fill="none" stroke="#0a0a0a" stroke-width="6.5" stroke-linecap="round" stroke-linejoin="round"/>
<path d="M725.5,764.5 L730.5,738.5 L737.5,738.5 C754,738.5 753,764.5 734.5,764.5 Z" fill="none" stroke="#0a0a0a" stroke-width="6.8" stroke-linecap="round" stroke-linejoin="round"/>
<path d="M883,195 L887.8,171 L894,171 C909,171 908,195 891,195 Z" fill="none" stroke="#0a0a0a" stroke-width="6.5" stroke-linecap="round" stroke-linejoin="round"/>
<path d="M913,195 L916.3,180" fill="none" stroke="#0a0a0a" stroke-width="6.2" stroke-linecap="round" stroke-linejoin="round"/>
<circle cx="919.5" cy="170.5" r="3.6" fill="#0a0a0a"/>
<path d="M943.5,180 L940.5,195 M942.5,185 C940,178 928,178 927.5,189 C927,197 937,197 941,187" fill="none" stroke="#0a0a0a" stroke-width="6" stroke-linecap="round" stroke-linejoin="round"/>
<path d="M960,195 L964.8,171 L972,171 C988,171 986.5,195 969,195 Z" fill="none" stroke="#0a0a0a" stroke-width="6.5" stroke-linecap="round" stroke-linejoin="round"/>
</svg>
</body></html>
